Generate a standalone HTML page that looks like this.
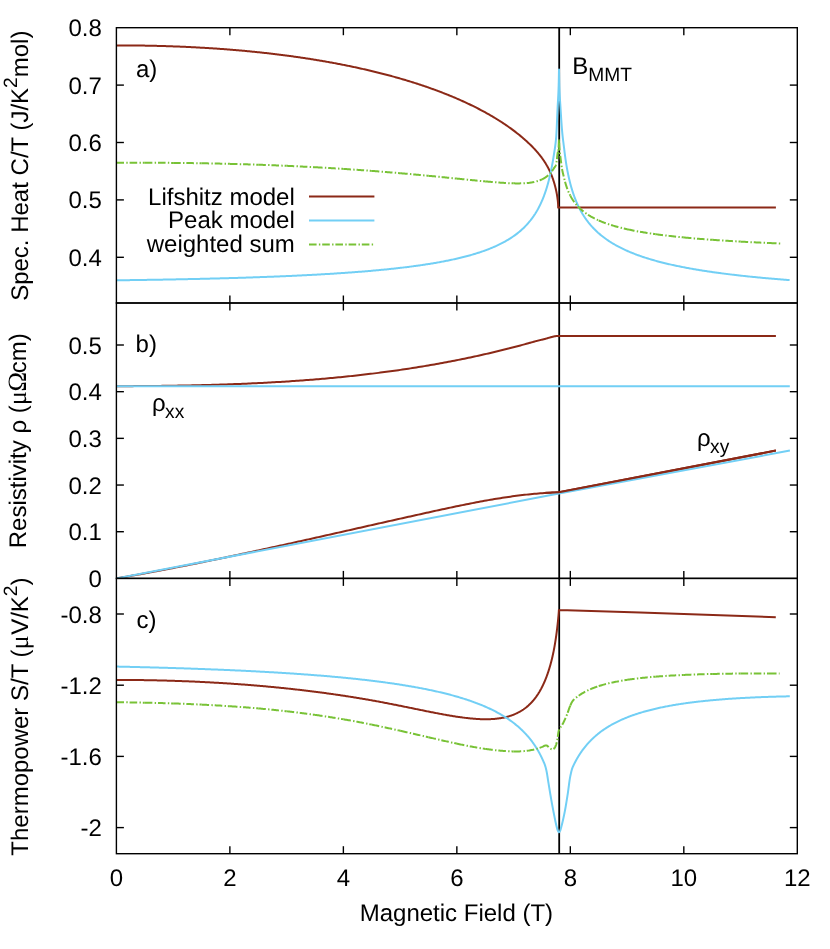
<!DOCTYPE html>
<html><head><meta charset="utf-8"><title>Lifshitz vs Peak model</title>
<style>
html,body{margin:0;padding:0;background:#fff;}
body{width:830px;height:949px;overflow:hidden;font-family:"Liberation Sans",sans-serif;}
svg{display:block;will-change:transform;text-rendering:geometricPrecision;}
</style></head><body>
<svg width="830" height="949" viewBox="0 0 830 949">
<rect width="830" height="949" fill="#fff"/>
<defs>
<clipPath id="ca"><rect x="116.40" y="27.70" width="680.90" height="275.30"/></clipPath>
<clipPath id="cb"><rect x="116.40" y="303.00" width="680.90" height="275.40"/></clipPath>
<clipPath id="cc"><rect x="116.40" y="578.40" width="680.90" height="275.30"/></clipPath>
</defs>
<g clip-path="url(#ca)">
<line x1="559.20" y1="27.70" x2="559.20" y2="303.00" stroke="#000" stroke-width="1.8"/>
<path d="M116.40,45.40 L117.40,45.40 L118.40,45.40 L119.40,45.40 L120.40,45.40 L121.40,45.40 L122.40,45.41 L123.40,45.41 L124.40,45.41 L125.40,45.42 L126.40,45.42 L127.40,45.43 L128.40,45.43 L129.40,45.44 L130.40,45.45 L131.40,45.45 L132.40,45.46 L133.40,45.47 L134.40,45.48 L135.40,45.49 L136.40,45.50 L137.40,45.51 L138.40,45.53 L139.40,45.54 L140.40,45.55 L141.40,45.57 L142.40,45.58 L143.40,45.60 L144.40,45.61 L145.40,45.63 L146.40,45.65 L147.40,45.67 L148.40,45.69 L149.40,45.71 L150.40,45.73 L151.40,45.75 L152.40,45.77 L153.40,45.79 L154.40,45.81 L155.40,45.84 L156.40,45.86 L157.40,45.89 L158.40,45.91 L159.40,45.94 L160.40,45.96 L161.40,45.99 L162.40,46.02 L163.40,46.05 L164.40,46.08 L165.40,46.11 L166.40,46.14 L167.40,46.17 L168.40,46.21 L169.40,46.24 L170.40,46.27 L171.40,46.31 L172.40,46.34 L173.40,46.38 L174.40,46.42 L175.40,46.45 L176.40,46.49 L177.40,46.53 L178.40,46.57 L179.40,46.61 L180.40,46.65 L181.40,46.69 L182.40,46.73 L183.40,46.78 L184.40,46.82 L185.40,46.87 L186.40,46.91 L187.40,46.96 L188.40,47.00 L189.40,47.05 L190.40,47.10 L191.40,47.15 L192.40,47.20 L193.40,47.25 L194.40,47.30 L195.40,47.35 L196.40,47.41 L197.40,47.46 L198.40,47.51 L199.40,47.57 L200.40,47.63 L201.40,47.68 L202.40,47.74 L203.40,47.80 L204.40,47.86 L205.40,47.92 L206.40,47.98 L207.40,48.04 L208.40,48.10 L209.40,48.16 L210.40,48.23 L211.40,48.29 L212.40,48.36 L213.40,48.42 L214.40,48.49 L215.40,48.56 L216.40,48.62 L217.40,48.69 L218.40,48.76 L219.40,48.83 L220.40,48.90 L221.40,48.98 L222.40,49.05 L223.40,49.12 L224.40,49.20 L225.40,49.27 L226.40,49.35 L227.40,49.43 L228.40,49.51 L229.40,49.59 L230.40,49.66 L231.40,49.75 L232.40,49.83 L233.40,49.91 L234.40,49.99 L235.40,50.08 L236.40,50.16 L237.40,50.25 L238.40,50.33 L239.40,50.42 L240.40,50.51 L241.40,50.60 L242.40,50.69 L243.40,50.78 L244.40,50.87 L245.40,50.96 L246.40,51.06 L247.40,51.15 L248.40,51.25 L249.40,51.34 L250.40,51.44 L251.40,51.54 L252.40,51.64 L253.40,51.73 L254.40,51.84 L255.40,51.94 L256.40,52.04 L257.40,52.14 L258.40,52.25 L259.40,52.35 L260.40,52.46 L261.40,52.56 L262.40,52.67 L263.40,52.78 L264.40,52.89 L265.40,53.00 L266.40,53.11 L267.40,53.23 L268.40,53.34 L269.40,53.45 L270.40,53.57 L271.40,53.69 L272.40,53.80 L273.40,53.92 L274.40,54.04 L275.40,54.16 L276.40,54.28 L277.40,54.41 L278.40,54.53 L279.40,54.65 L280.40,54.78 L281.40,54.90 L282.40,55.03 L283.40,55.16 L284.40,55.29 L285.40,55.42 L286.40,55.55 L287.40,55.68 L288.40,55.82 L289.40,55.95 L290.40,56.09 L291.40,56.22 L292.40,56.36 L293.40,56.50 L294.40,56.64 L295.40,56.78 L296.40,56.92 L297.40,57.06 L298.40,57.21 L299.40,57.35 L300.40,57.50 L301.40,57.65 L302.40,57.79 L303.40,57.94 L304.40,58.09 L305.40,58.24 L306.40,58.40 L307.40,58.55 L308.40,58.71 L309.40,58.86 L310.40,59.02 L311.40,59.18 L312.40,59.34 L313.40,59.50 L314.40,59.66 L315.40,59.82 L316.40,59.99 L317.40,60.15 L318.40,60.32 L319.40,60.48 L320.40,60.65 L321.40,60.82 L322.40,60.99 L323.40,61.17 L324.40,61.34 L325.40,61.51 L326.40,61.69 L327.40,61.87 L328.40,62.05 L329.40,62.22 L330.40,62.41 L331.40,62.59 L332.40,62.77 L333.40,62.96 L334.40,63.14 L335.40,63.33 L336.40,63.52 L337.40,63.71 L338.40,63.90 L339.40,64.09 L340.40,64.28 L341.40,64.48 L342.40,64.67 L343.40,64.87 L344.40,65.07 L345.40,65.27 L346.40,65.47 L347.40,65.68 L348.40,65.88 L349.40,66.09 L350.40,66.29 L351.40,66.50 L352.40,66.71 L353.40,66.92 L354.40,67.13 L355.40,67.35 L356.40,67.56 L357.40,67.78 L358.40,68.00 L359.40,68.22 L360.40,68.44 L361.40,68.66 L362.40,68.89 L363.40,69.11 L364.40,69.34 L365.40,69.57 L366.40,69.80 L367.40,70.03 L368.40,70.26 L369.40,70.50 L370.40,70.74 L371.40,70.97 L372.40,71.21 L373.40,71.45 L374.40,71.70 L375.40,71.94 L376.40,72.19 L377.40,72.43 L378.40,72.68 L379.40,72.93 L380.40,73.19 L381.40,73.44 L382.40,73.70 L383.40,73.95 L384.40,74.21 L385.40,74.47 L386.40,74.74 L387.40,75.00 L388.40,75.27 L389.40,75.54 L390.40,75.81 L391.40,76.08 L392.40,76.35 L393.40,76.63 L394.40,76.90 L395.40,77.18 L396.40,77.46 L397.40,77.74 L398.40,78.03 L399.40,78.31 L400.40,78.60 L401.40,78.89 L402.40,79.18 L403.40,79.48 L404.40,79.77 L405.40,80.07 L406.40,80.37 L407.40,80.67 L408.40,80.98 L409.40,81.28 L410.40,81.59 L411.40,81.90 L412.40,82.22 L413.40,82.53 L414.40,82.85 L415.40,83.17 L416.40,83.49 L417.40,83.81 L418.40,84.14 L419.40,84.46 L420.40,84.79 L421.40,85.12 L422.40,85.46 L423.40,85.80 L424.40,86.14 L425.40,86.48 L426.40,86.82 L427.40,87.17 L428.40,87.52 L429.40,87.87 L430.40,88.22 L431.40,88.58 L432.40,88.94 L433.40,89.30 L434.40,89.66 L435.40,90.03 L436.40,90.40 L437.40,90.77 L438.40,91.14 L439.40,91.52 L440.40,91.90 L441.40,92.28 L442.40,92.67 L443.40,93.06 L444.40,93.45 L445.40,93.84 L446.40,94.24 L447.40,94.64 L448.40,95.04 L449.40,95.45 L450.40,95.86 L451.40,96.27 L452.40,96.68 L453.40,97.10 L454.40,97.52 L455.40,97.95 L456.40,98.38 L457.40,98.81 L458.40,99.24 L459.40,99.68 L460.40,100.12 L461.40,100.57 L462.40,101.02 L463.40,101.47 L464.40,101.93 L465.40,102.39 L466.40,102.85 L467.40,103.32 L468.40,103.79 L469.40,104.27 L470.40,104.75 L471.40,105.23 L472.40,105.72 L473.40,106.21 L474.40,106.71 L475.40,107.21 L476.40,107.71 L477.40,108.22 L478.40,108.74 L479.40,109.26 L480.40,109.78 L481.40,110.31 L482.40,110.84 L483.40,111.38 L484.40,111.92 L485.40,112.47 L486.40,113.03 L487.40,113.58 L488.40,114.15 L489.40,114.72 L490.40,115.29 L491.40,115.87 L492.40,116.46 L493.40,117.05 L494.40,117.65 L495.40,118.26 L496.40,118.87 L497.40,119.49 L498.40,120.11 L499.40,120.74 L500.40,121.38 L501.40,122.03 L502.40,122.68 L503.40,123.34 L504.40,124.01 L505.40,124.68 L506.40,125.36 L507.40,126.05 L508.40,126.75 L509.40,127.46 L510.40,128.18 L511.40,128.90 L512.40,129.63 L513.40,130.38 L514.40,131.13 L515.40,131.90 L516.40,132.67 L517.40,133.45 L518.40,134.25 L519.40,135.06 L520.40,135.88 L521.40,136.71 L522.40,137.55 L523.40,138.41 L524.40,139.28 L525.40,140.16 L526.40,141.06 L527.40,141.98 L528.40,142.91 L529.40,143.86 L530.40,144.83 L531.40,145.81 L532.40,146.82 L533.40,147.85 L534.40,148.90 L535.00,149.55 L535.10,149.66 L535.20,149.77 L535.30,149.88 L535.40,149.99 L535.50,150.10 L535.60,150.21 L535.70,150.32 L535.80,150.43 L535.90,150.54 L536.00,150.65 L536.10,150.76 L536.20,150.87 L536.30,150.98 L536.40,151.10 L536.50,151.21 L536.60,151.32 L536.70,151.44 L536.80,151.55 L536.90,151.66 L537.00,151.78 L537.10,151.89 L537.20,152.01 L537.30,152.12 L537.40,152.24 L537.50,152.36 L537.60,152.47 L537.70,152.59 L537.80,152.71 L537.90,152.83 L538.00,152.94 L538.10,153.06 L538.20,153.18 L538.30,153.30 L538.40,153.42 L538.50,153.54 L538.60,153.66 L538.70,153.78 L538.80,153.90 L538.90,154.02 L539.00,154.15 L539.10,154.27 L539.20,154.39 L539.30,154.51 L539.40,154.64 L539.50,154.76 L539.60,154.89 L539.70,155.01 L539.80,155.14 L539.90,155.26 L540.00,155.39 L540.10,155.52 L540.20,155.64 L540.30,155.77 L540.40,155.90 L540.50,156.03 L540.60,156.16 L540.70,156.29 L540.80,156.42 L540.90,156.55 L541.00,156.68 L541.10,156.81 L541.20,156.94 L541.30,157.08 L541.40,157.21 L541.50,157.34 L541.60,157.48 L541.70,157.61 L541.80,157.75 L541.90,157.88 L542.00,158.02 L542.10,158.16 L542.20,158.29 L542.30,158.43 L542.40,158.57 L542.50,158.71 L542.60,158.85 L542.70,158.99 L542.80,159.13 L542.90,159.27 L543.00,159.42 L543.10,159.56 L543.20,159.70 L543.30,159.85 L543.40,159.99 L543.50,160.14 L543.60,160.29 L543.70,160.43 L543.80,160.58 L543.90,160.73 L544.00,160.88 L544.10,161.03 L544.20,161.18 L544.30,161.33 L544.40,161.48 L544.50,161.64 L544.60,161.79 L544.70,161.95 L544.80,162.10 L544.90,162.26 L545.00,162.41 L545.10,162.57 L545.20,162.73 L545.30,162.89 L545.40,163.05 L545.50,163.21 L545.60,163.37 L545.70,163.54 L545.80,163.70 L545.90,163.86 L546.00,164.03 L546.10,164.20 L546.20,164.36 L546.30,164.53 L546.40,164.70 L546.50,164.87 L546.60,165.05 L546.70,165.22 L546.80,165.39 L546.90,165.57 L547.00,165.74 L547.10,165.92 L547.20,166.10 L547.30,166.28 L547.40,166.46 L547.50,166.64 L547.60,166.82 L547.70,167.00 L547.80,167.19 L547.90,167.38 L548.00,167.56 L548.10,167.75 L548.20,167.94 L548.30,168.13 L548.40,168.33 L548.50,168.52 L548.60,168.72 L548.70,168.91 L548.80,169.11 L548.90,169.31 L549.00,169.51 L549.10,169.72 L549.20,169.92 L549.30,170.13 L549.40,170.33 L549.50,170.54 L549.60,170.75 L549.70,170.97 L549.80,171.18 L549.90,171.40 L550.00,171.61 L550.10,171.83 L550.20,172.06 L550.30,172.28 L550.40,172.51 L550.50,172.73 L550.60,172.96 L550.70,173.19 L550.80,173.43 L550.90,173.66 L551.00,173.90 L551.10,174.14 L551.20,174.39 L551.30,174.63 L551.40,174.88 L551.50,175.13 L551.60,175.38 L551.70,175.63 L551.80,175.89 L551.90,176.15 L552.00,176.41 L552.10,176.68 L552.20,176.95 L552.30,177.22 L552.40,177.49 L552.50,177.77 L552.60,178.04 L552.70,178.33 L552.80,178.61 L552.90,178.90 L553.00,179.19 L553.10,179.48 L553.20,179.78 L553.30,180.08 L553.40,180.39 L553.50,180.70 L553.60,181.01 L553.70,181.32 L553.80,181.64 L553.90,181.96 L554.00,182.29 L554.10,182.62 L554.20,182.96 L554.30,183.30 L554.40,183.64 L554.50,183.99 L554.60,184.34 L554.70,184.70 L554.80,185.07 L554.90,185.43 L555.00,185.81 L555.10,186.19 L555.20,186.57 L555.30,186.97 L555.40,187.37 L555.50,187.77 L555.60,188.18 L555.70,188.60 L555.80,189.03 L555.90,189.47 L556.00,189.91 L556.10,190.37 L556.20,190.83 L556.30,191.31 L556.40,191.79 L556.50,192.29 L556.60,192.80 L556.70,193.33 L556.80,193.87 L556.90,194.42 L557.00,195.00 L557.10,195.60 L557.20,196.22 L557.30,196.87 L557.40,197.55 L557.50,198.26 L557.60,199.03 L557.70,199.84 L557.80,200.74 L557.90,201.73 L558.00,202.88 L558.10,204.34 L558.20,207.61 L558.20,207.61 L558.20,207.60 L775.90,207.60" fill="none" stroke="#8b2917" stroke-width="2.0" stroke-linejoin="round"/>
<path d="M116.40,280.30 L117.40,280.29 L118.40,280.28 L119.40,280.27 L120.40,280.25 L121.40,280.24 L122.40,280.23 L123.40,280.22 L124.40,280.20 L125.40,280.19 L126.40,280.18 L127.40,280.16 L128.40,280.15 L129.40,280.14 L130.40,280.12 L131.40,280.11 L132.40,280.09 L133.40,280.08 L134.40,280.07 L135.40,280.05 L136.40,280.04 L137.40,280.02 L138.40,280.01 L139.40,279.99 L140.40,279.98 L141.40,279.96 L142.40,279.95 L143.40,279.93 L144.40,279.92 L145.40,279.90 L146.40,279.89 L147.40,279.87 L148.40,279.86 L149.40,279.84 L150.40,279.83 L151.40,279.81 L152.40,279.79 L153.40,279.78 L154.40,279.76 L155.40,279.74 L156.40,279.73 L157.40,279.71 L158.40,279.69 L159.40,279.68 L160.40,279.66 L161.40,279.64 L162.40,279.63 L163.40,279.61 L164.40,279.59 L165.40,279.57 L166.40,279.55 L167.40,279.54 L168.40,279.52 L169.40,279.50 L170.40,279.48 L171.40,279.46 L172.40,279.44 L173.40,279.42 L174.40,279.41 L175.40,279.39 L176.40,279.37 L177.40,279.35 L178.40,279.33 L179.40,279.31 L180.40,279.29 L181.40,279.27 L182.40,279.25 L183.40,279.23 L184.40,279.21 L185.40,279.19 L186.40,279.17 L187.40,279.15 L188.40,279.12 L189.40,279.10 L190.40,279.08 L191.40,279.06 L192.40,279.04 L193.40,279.02 L194.40,278.99 L195.40,278.97 L196.40,278.95 L197.40,278.93 L198.40,278.90 L199.40,278.88 L200.40,278.86 L201.40,278.84 L202.40,278.81 L203.40,278.79 L204.40,278.77 L205.40,278.74 L206.40,278.72 L207.40,278.69 L208.40,278.67 L209.40,278.64 L210.40,278.62 L211.40,278.59 L212.40,278.57 L213.40,278.54 L214.40,278.52 L215.40,278.49 L216.40,278.47 L217.40,278.44 L218.40,278.42 L219.40,278.39 L220.40,278.36 L221.40,278.34 L222.40,278.31 L223.40,278.28 L224.40,278.25 L225.40,278.23 L226.40,278.20 L227.40,278.17 L228.40,278.14 L229.40,278.11 L230.40,278.09 L231.40,278.06 L232.40,278.03 L233.40,278.00 L234.40,277.97 L235.40,277.94 L236.40,277.91 L237.40,277.88 L238.40,277.85 L239.40,277.82 L240.40,277.79 L241.40,277.76 L242.40,277.73 L243.40,277.69 L244.40,277.66 L245.40,277.63 L246.40,277.60 L247.40,277.57 L248.40,277.53 L249.40,277.50 L250.40,277.47 L251.40,277.43 L252.40,277.40 L253.40,277.37 L254.40,277.33 L255.40,277.30 L256.40,277.26 L257.40,277.23 L258.40,277.19 L259.40,277.16 L260.40,277.12 L261.40,277.09 L262.40,277.05 L263.40,277.01 L264.40,276.98 L265.40,276.94 L266.40,276.90 L267.40,276.87 L268.40,276.83 L269.40,276.79 L270.40,276.75 L271.40,276.71 L272.40,276.67 L273.40,276.64 L274.40,276.60 L275.40,276.56 L276.40,276.52 L277.40,276.48 L278.40,276.43 L279.40,276.39 L280.40,276.35 L281.40,276.31 L282.40,276.27 L283.40,276.23 L284.40,276.18 L285.40,276.14 L286.40,276.10 L287.40,276.05 L288.40,276.01 L289.40,275.97 L290.40,275.92 L291.40,275.88 L292.40,275.83 L293.40,275.78 L294.40,275.74 L295.40,275.69 L296.40,275.65 L297.40,275.60 L298.40,275.55 L299.40,275.50 L300.40,275.45 L301.40,275.41 L302.40,275.36 L303.40,275.31 L304.40,275.26 L305.40,275.21 L306.40,275.16 L307.40,275.11 L308.40,275.06 L309.40,275.00 L310.40,274.95 L311.40,274.90 L312.40,274.85 L313.40,274.79 L314.40,274.74 L315.40,274.68 L316.40,274.63 L317.40,274.57 L318.40,274.52 L319.40,274.46 L320.40,274.41 L321.40,274.35 L322.40,274.29 L323.40,274.23 L324.40,274.18 L325.40,274.12 L326.40,274.06 L327.40,274.00 L328.40,273.94 L329.40,273.88 L330.40,273.82 L331.40,273.75 L332.40,273.69 L333.40,273.63 L334.40,273.57 L335.40,273.50 L336.40,273.44 L337.40,273.37 L338.40,273.31 L339.40,273.24 L340.40,273.17 L341.40,273.11 L342.40,273.04 L343.40,272.97 L344.40,272.90 L345.40,272.83 L346.40,272.76 L347.40,272.69 L348.40,272.62 L349.40,272.55 L350.40,272.48 L351.40,272.40 L352.40,272.33 L353.40,272.26 L354.40,272.18 L355.40,272.10 L356.40,272.03 L357.40,271.95 L358.40,271.87 L359.40,271.79 L360.40,271.72 L361.40,271.64 L362.40,271.55 L363.40,271.47 L364.40,271.39 L365.40,271.31 L366.40,271.23 L367.40,271.14 L368.40,271.06 L369.40,270.97 L370.40,270.88 L371.40,270.80 L372.40,270.71 L373.40,270.62 L374.40,270.53 L375.40,270.44 L376.40,270.35 L377.40,270.25 L378.40,270.16 L379.40,270.07 L380.40,269.97 L381.40,269.87 L382.40,269.78 L383.40,269.68 L384.40,269.58 L385.40,269.48 L386.40,269.38 L387.40,269.28 L388.40,269.18 L389.40,269.07 L390.40,268.97 L391.40,268.86 L392.40,268.75 L393.40,268.65 L394.40,268.54 L395.40,268.43 L396.40,268.32 L397.40,268.20 L398.40,268.09 L399.40,267.97 L400.40,267.86 L401.40,267.74 L402.40,267.62 L403.40,267.50 L404.40,267.38 L405.40,267.26 L406.40,267.14 L407.40,267.01 L408.40,266.89 L409.40,266.76 L410.40,266.63 L411.40,266.50 L412.40,266.37 L413.40,266.24 L414.40,266.10 L415.40,265.96 L416.40,265.83 L417.40,265.69 L418.40,265.55 L419.40,265.40 L420.40,265.26 L421.40,265.12 L422.40,264.97 L423.40,264.82 L424.40,264.67 L425.40,264.52 L426.40,264.36 L427.40,264.21 L428.40,264.05 L429.40,263.89 L430.40,263.73 L431.40,263.56 L432.40,263.40 L433.40,263.23 L434.40,263.06 L435.40,262.89 L436.40,262.72 L437.40,262.54 L438.40,262.36 L439.40,262.18 L440.40,262.00 L441.40,261.81 L442.40,261.62 L443.40,261.43 L444.40,261.24 L445.40,261.05 L446.40,260.85 L447.40,260.65 L448.40,260.45 L449.40,260.24 L450.40,260.03 L451.40,259.82 L452.40,259.61 L453.40,259.39 L454.40,259.17 L455.40,258.95 L456.40,258.72 L457.40,258.49 L458.40,258.26 L459.40,258.02 L460.40,257.78 L461.40,257.54 L462.40,257.29 L463.40,257.04 L464.40,256.78 L465.40,256.52 L466.40,256.26 L467.40,255.99 L468.40,255.72 L469.40,255.45 L470.40,255.17 L471.40,254.88 L472.40,254.59 L473.40,254.30 L474.40,254.00 L475.40,253.70 L476.40,253.39 L477.40,253.07 L478.40,252.75 L479.40,252.43 L480.40,252.10 L481.40,251.76 L482.40,251.42 L483.40,251.07 L484.40,250.71 L485.40,250.35 L486.40,249.98 L487.40,249.60 L488.40,249.22 L489.40,248.83 L490.40,248.43 L491.40,248.02 L492.40,247.60 L493.40,247.18 L494.40,246.75 L495.40,246.30 L496.40,245.85 L497.40,245.39 L498.40,244.92 L499.40,244.43 L500.40,243.94 L501.40,243.44 L502.40,242.92 L503.40,242.39 L504.40,241.85 L505.40,241.29 L506.40,240.72 L507.40,240.14 L508.40,239.54 L509.40,238.92 L510.40,238.29 L511.40,237.64 L512.40,236.98 L513.40,236.29 L514.40,235.58 L515.40,234.86 L516.40,234.11 L517.40,233.34 L518.40,232.54 L519.40,231.72 L520.40,230.87 L521.40,229.99 L522.40,229.09 L523.40,228.15 L524.40,227.17 L525.40,226.16 L526.40,225.11 L527.40,224.03 L528.40,222.89 L529.40,221.71 L530.00,220.98 L530.10,220.85 L530.20,220.73 L530.30,220.60 L530.40,220.48 L530.50,220.35 L530.60,220.23 L530.70,220.10 L530.80,219.97 L530.90,219.84 L531.00,219.71 L531.10,219.58 L531.20,219.45 L531.30,219.32 L531.40,219.19 L531.50,219.06 L531.60,218.93 L531.70,218.80 L531.80,218.66 L531.90,218.53 L532.00,218.39 L532.10,218.26 L532.20,218.12 L532.30,217.98 L532.40,217.85 L532.50,217.71 L532.60,217.57 L532.70,217.43 L532.80,217.29 L532.90,217.15 L533.00,217.01 L533.10,216.87 L533.20,216.73 L533.30,216.58 L533.40,216.44 L533.50,216.29 L533.60,216.15 L533.70,216.00 L533.80,215.86 L533.90,215.71 L534.00,215.56 L534.10,215.41 L534.20,215.26 L534.30,215.11 L534.40,214.96 L534.50,214.81 L534.60,214.66 L534.70,214.50 L534.80,214.35 L534.90,214.19 L535.00,214.04 L535.10,213.88 L535.20,213.72 L535.30,213.57 L535.40,213.41 L535.50,213.25 L535.60,213.09 L535.70,212.93 L535.80,212.76 L535.90,212.60 L536.00,212.44 L536.10,212.27 L536.20,212.11 L536.30,211.94 L536.40,211.77 L536.50,211.60 L536.60,211.43 L536.70,211.26 L536.80,211.09 L536.90,210.92 L537.00,210.75 L537.10,210.58 L537.20,210.40 L537.30,210.23 L537.40,210.05 L537.50,209.87 L537.60,209.69 L537.70,209.51 L537.80,209.33 L537.90,209.15 L538.00,208.97 L538.10,208.79 L538.20,208.60 L538.30,208.42 L538.40,208.23 L538.50,208.04 L538.60,207.85 L538.70,207.66 L538.80,207.47 L538.90,207.28 L539.00,207.09 L539.10,206.90 L539.20,206.70 L539.30,206.50 L539.40,206.31 L539.50,206.11 L539.60,205.91 L539.70,205.71 L539.80,205.51 L539.90,205.30 L540.00,205.10 L540.10,204.89 L540.20,204.69 L540.30,204.48 L540.40,204.27 L540.50,204.06 L540.60,203.84 L540.70,203.63 L540.80,203.42 L540.90,203.20 L541.00,202.98 L541.10,202.77 L541.20,202.55 L541.30,202.32 L541.40,202.10 L541.50,201.88 L541.60,201.65 L541.70,201.43 L541.80,201.20 L541.90,200.97 L542.00,200.74 L542.10,200.50 L542.20,200.27 L542.30,200.03 L542.40,199.80 L542.50,199.56 L542.60,199.32 L542.70,199.07 L542.80,198.83 L542.90,198.59 L543.00,198.34 L543.10,198.09 L543.20,197.84 L543.30,197.59 L543.40,197.33 L543.50,197.08 L543.60,196.82 L543.70,196.56 L543.80,196.30 L543.90,196.04 L544.00,195.78 L544.10,195.51 L544.20,195.24 L544.30,194.97 L544.40,194.70 L544.50,194.43 L544.60,194.15 L544.70,193.87 L544.80,193.59 L544.90,193.31 L545.00,193.03 L545.10,192.74 L545.20,192.45 L545.30,192.16 L545.40,191.87 L545.50,191.57 L545.60,191.28 L545.70,190.98 L545.80,190.68 L545.90,190.37 L546.00,190.07 L546.10,189.76 L546.20,189.45 L546.30,189.13 L546.40,188.82 L546.50,188.50 L546.60,188.18 L546.70,187.85 L546.80,187.53 L546.90,187.20 L547.00,186.87 L547.10,186.53 L547.20,186.19 L547.30,185.85 L547.40,185.51 L547.50,185.17 L547.60,184.82 L547.70,184.47 L547.80,184.11 L547.90,183.75 L548.00,183.39 L548.10,183.03 L548.20,182.66 L548.30,182.29 L548.40,181.92 L548.50,181.54 L548.60,181.16 L548.70,180.78 L548.80,180.39 L548.90,180.00 L549.00,179.60 L549.10,179.20 L549.20,178.80 L549.30,178.40 L549.40,177.99 L549.50,177.57 L549.60,177.16 L549.70,176.74 L549.80,176.31 L549.90,175.88 L550.00,175.45 L550.10,175.01 L550.20,174.57 L550.30,174.12 L550.40,173.67 L550.50,173.22 L550.60,172.76 L550.70,172.30 L550.80,171.83 L550.90,171.36 L551.00,170.88 L551.10,170.40 L551.20,169.91 L551.30,169.42 L551.40,168.92 L551.50,168.42 L551.60,167.91 L551.70,167.40 L551.80,166.88 L551.90,166.36 L552.00,165.83 L552.10,165.30 L552.20,164.76 L552.30,164.21 L552.40,163.66 L552.50,163.11 L552.60,162.54 L552.70,161.98 L552.80,161.40 L552.90,160.82 L553.00,160.24 L553.10,159.64 L553.20,159.05 L553.30,158.44 L553.40,157.83 L553.50,157.21 L553.60,156.59 L553.70,155.96 L553.80,155.32 L553.90,154.66 L554.00,154.02 L554.10,153.39 L554.20,152.76 L554.30,152.14 L554.40,151.52 L554.50,150.90 L554.60,150.27 L554.70,149.64 L554.80,148.99 L554.90,148.34 L555.00,147.66 L555.10,146.96 L555.20,146.24 L555.30,145.49 L555.40,144.71 L555.50,143.90 L555.60,143.05 L555.70,142.16 L555.80,141.22 L555.90,140.24 L556.00,139.22 L556.10,138.14 L556.20,137.00 L556.30,135.71 L556.40,134.18 L556.50,132.44 L556.60,130.53 L556.70,128.46 L556.80,126.27 L556.90,123.99 L557.00,121.65 L557.02,121.17 L557.04,120.70 L557.06,120.22 L557.08,119.74 L557.10,119.26 L557.12,118.79 L557.14,118.31 L557.16,117.83 L557.18,117.35 L557.20,116.87 L557.22,116.40 L557.24,115.92 L557.26,115.45 L557.28,114.97 L557.30,114.50 L557.32,114.03 L557.34,113.57 L557.36,113.10 L557.38,112.64 L557.40,112.18 L557.42,111.73 L557.44,111.27 L557.46,110.82 L557.48,110.38 L557.50,109.94 L557.52,109.50 L557.54,109.07 L557.56,108.64 L557.58,108.22 L557.60,107.80 L557.62,107.39 L557.64,106.98 L557.66,106.59 L557.68,106.20 L557.70,105.81 L557.72,105.43 L557.74,105.06 L557.76,104.69 L557.78,104.33 L557.80,103.97 L557.82,103.61 L557.84,103.26 L557.86,102.90 L557.88,102.55 L557.90,102.21 L557.92,101.86 L557.94,101.51 L557.96,101.17 L557.98,100.82 L558.00,100.48 L558.02,100.13 L558.04,99.78 L558.06,99.43 L558.08,99.08 L558.10,98.72 L558.12,98.36 L558.14,98.00 L558.16,97.63 L558.18,97.26 L558.20,96.88 L558.22,96.50 L558.24,96.11 L558.26,95.71 L558.28,95.31 L558.30,94.90 L558.32,94.49 L558.34,94.06 L558.36,93.63 L558.38,93.19 L558.40,92.73 L558.42,92.27 L558.44,91.80 L558.46,91.32 L558.48,90.82 L558.50,90.32 L558.52,89.80 L558.54,89.27 L558.56,88.72 L558.58,88.16 L558.60,87.59 L558.62,87.01 L558.64,86.41 L558.66,85.78 L558.68,85.11 L558.70,84.38 L558.72,83.60 L558.74,82.77 L558.76,81.90 L558.78,80.99 L558.80,80.05 L558.82,79.07 L558.84,78.06 L558.86,77.04 L558.88,75.99 L558.90,74.92 L558.92,73.85 L558.94,72.76 L558.96,71.67 L558.98,70.59 L559.00,69.50 L559.02,70.59 L559.04,71.68 L559.06,72.78 L559.08,73.87 L559.10,74.95 L559.12,76.03 L559.14,77.09 L559.16,78.13 L559.18,79.14 L559.20,80.12 L559.22,81.07 L559.24,81.98 L559.26,82.85 L559.28,83.67 L559.30,84.44 L559.32,85.15 L559.34,85.80 L559.36,86.39 L559.38,86.96 L559.40,87.52 L559.42,88.07 L559.44,88.61 L559.46,89.13 L559.48,89.65 L559.50,90.15 L559.52,90.64 L559.54,91.12 L559.56,91.60 L559.58,92.06 L559.60,92.51 L559.62,92.95 L559.64,93.39 L559.66,93.82 L559.68,94.23 L559.70,94.65 L559.72,95.05 L559.74,95.44 L559.76,95.83 L559.78,96.21 L559.80,96.59 L559.82,96.96 L559.84,97.32 L559.86,97.67 L559.88,98.03 L559.90,98.37 L559.92,98.71 L559.94,99.05 L559.96,99.38 L559.98,99.71 L560.00,100.04 L560.02,100.36 L560.04,100.68 L560.06,100.99 L560.08,101.31 L560.10,101.62 L560.12,101.93 L560.14,102.23 L560.16,102.54 L560.18,102.84 L560.20,103.15 L560.22,103.45 L560.24,103.75 L560.26,104.06 L560.28,104.36 L560.30,104.66 L560.32,104.97 L560.34,105.28 L560.36,105.58 L560.38,105.89 L560.40,106.20 L560.42,106.52 L560.44,106.83 L560.46,107.15 L560.48,107.47 L560.50,107.80 L560.52,108.13 L560.54,108.45 L560.56,108.78 L560.58,109.11 L560.60,109.43 L560.62,109.76 L560.64,110.08 L560.66,110.41 L560.68,110.73 L560.70,111.05 L560.72,111.38 L560.74,111.70 L560.76,112.02 L560.78,112.34 L560.80,112.66 L560.82,112.98 L560.84,113.30 L560.86,113.62 L560.88,113.93 L560.90,114.25 L560.92,114.56 L560.94,114.88 L560.96,115.19 L560.98,115.50 L561.00,115.82 L561.10,117.36 L561.20,118.88 L561.30,120.37 L561.40,121.83 L561.50,123.25 L561.60,124.64 L561.70,125.98 L561.80,127.28 L561.90,128.54 L562.00,129.75 L562.10,130.90 L562.20,132.00 L562.30,133.05 L562.40,134.06 L562.50,135.04 L562.60,135.99 L562.70,136.90 L562.80,137.79 L562.90,138.65 L563.00,139.49 L563.10,140.32 L563.20,141.12 L563.30,141.92 L563.40,142.71 L563.50,143.49 L563.60,144.26 L563.70,145.03 L563.80,145.81 L563.90,146.59 L564.00,147.38 L564.10,148.18 L564.20,148.99 L564.30,149.86 L564.40,150.71 L564.50,151.54 L564.60,152.36 L564.70,153.16 L564.80,153.95 L564.90,154.72 L565.00,155.48 L565.10,156.23 L565.20,156.97 L565.30,157.69 L565.40,158.40 L565.50,159.10 L565.60,159.79 L565.70,160.47 L565.80,161.14 L565.90,161.80 L566.00,162.44 L566.10,163.08 L566.20,163.71 L566.30,164.33 L566.40,164.94 L566.50,165.54 L566.60,166.13 L566.70,166.72 L566.80,167.30 L566.90,167.87 L567.00,168.43 L567.10,168.98 L567.20,169.53 L567.30,170.07 L567.40,170.60 L567.50,171.13 L567.60,171.65 L567.70,172.16 L567.80,172.67 L567.90,173.17 L568.00,173.66 L568.10,174.15 L568.20,174.63 L568.30,175.11 L568.40,175.58 L568.50,176.05 L568.60,176.51 L568.70,176.96 L568.80,177.42 L568.90,177.86 L569.00,178.30 L569.10,178.74 L569.20,179.17 L569.30,179.60 L569.40,180.02 L569.50,180.43 L569.60,180.85 L569.70,181.26 L569.80,181.66 L569.90,182.06 L570.00,182.46 L570.10,182.85 L570.20,183.24 L570.30,183.63 L570.40,184.01 L570.50,184.39 L570.60,184.76 L570.70,185.13 L570.80,185.50 L570.90,185.86 L571.00,186.22 L571.10,186.58 L571.20,186.93 L571.30,187.28 L571.40,187.63 L571.50,187.97 L571.60,188.31 L571.70,188.65 L571.80,188.99 L571.90,189.32 L572.00,189.65 L572.10,189.97 L572.20,190.30 L572.30,190.62 L572.40,190.94 L572.50,191.25 L572.60,191.56 L572.70,191.88 L572.80,192.18 L572.90,192.49 L573.00,192.79 L573.10,193.09 L573.20,193.39 L573.30,193.68 L573.40,193.98 L573.50,194.27 L573.60,194.56 L573.70,194.84 L573.80,195.13 L573.90,195.41 L574.00,195.69 L574.10,195.97 L574.20,196.24 L574.30,196.52 L574.40,196.79 L574.50,197.06 L574.60,197.33 L574.70,197.59 L574.80,197.86 L574.90,198.12 L575.00,198.38 L575.10,198.64 L575.20,198.89 L575.30,199.15 L575.40,199.40 L575.50,199.65 L575.60,199.90 L575.70,200.15 L575.80,200.39 L575.90,200.64 L576.00,200.88 L576.10,201.12 L576.20,201.36 L576.30,201.60 L576.40,201.84 L576.50,202.07 L576.60,202.30 L576.70,202.53 L576.80,202.76 L576.90,202.99 L577.00,203.22 L577.10,203.45 L577.20,203.67 L577.30,203.89 L577.40,204.11 L577.50,204.33 L577.60,204.55 L577.70,204.77 L577.80,204.99 L577.90,205.20 L578.00,205.41 L578.10,205.63 L578.20,205.84 L578.30,206.05 L578.40,206.25 L578.50,206.46 L578.60,206.67 L578.70,206.87 L578.80,207.08 L578.90,207.28 L579.00,207.48 L579.10,207.68 L579.20,207.88 L579.30,208.07 L579.40,208.27 L579.50,208.47 L579.60,208.66 L579.70,208.85 L579.80,209.04 L579.90,209.24 L580.00,209.42 L580.10,209.61 L580.20,209.80 L580.30,209.99 L580.40,210.17 L580.50,210.36 L580.60,210.54 L580.70,210.72 L580.80,210.91 L580.90,211.09 L581.00,211.27 L581.10,211.45 L581.20,211.62 L581.30,211.80 L581.40,211.98 L581.50,212.15 L581.60,212.32 L581.70,212.50 L581.80,212.67 L581.90,212.84 L582.00,213.01 L582.10,213.18 L582.20,213.35 L582.30,213.52 L582.40,213.69 L582.50,213.85 L582.60,214.02 L582.70,214.18 L582.80,214.35 L582.90,214.51 L583.00,214.67 L583.10,214.83 L583.20,214.99 L583.30,215.15 L583.40,215.31 L583.50,215.47 L583.60,215.63 L583.70,215.78 L583.80,215.94 L583.90,216.09 L584.00,216.25 L584.10,216.40 L584.20,216.56 L584.30,216.71 L584.40,216.86 L584.50,217.01 L584.60,217.16 L584.70,217.31 L584.80,217.46 L584.90,217.61 L585.00,217.75 L585.10,217.90 L585.20,218.05 L585.30,218.19 L585.40,218.34 L585.50,218.48 L585.60,218.62 L585.70,218.77 L585.80,218.91 L585.90,219.05 L586.00,219.19 L586.10,219.33 L586.20,219.47 L586.30,219.61 L586.40,219.75 L586.50,219.89 L586.60,220.02 L586.70,220.16 L586.80,220.30 L586.90,220.43 L587.00,220.57 L587.10,220.70 L587.20,220.84 L587.30,220.97 L587.40,221.10 L587.50,221.23 L587.60,221.36 L587.70,221.50 L587.80,221.63 L587.90,221.76 L588.00,221.89 L588.10,222.01 L588.20,222.14 L588.30,222.27 L588.40,222.40 L588.50,222.52 L588.60,222.65 L588.70,222.78 L588.80,222.90 L588.90,223.03 L589.00,223.15 L589.10,223.27 L589.20,223.40 L589.30,223.52 L589.40,223.64 L589.50,223.76 L589.60,223.88 L589.70,224.00 L589.80,224.12 L589.90,224.24 L590.00,224.36 L591.00,225.53 L592.00,226.66 L593.00,227.74 L594.00,228.79 L595.00,229.79 L596.00,230.77 L597.00,231.71 L598.00,232.63 L599.00,233.51 L600.00,234.37 L601.00,235.20 L602.00,236.01 L603.00,236.80 L604.00,237.56 L605.00,238.30 L606.00,239.02 L607.00,239.73 L608.00,240.41 L609.00,241.08 L610.00,241.73 L611.00,242.36 L612.00,242.98 L613.00,243.59 L614.00,244.18 L615.00,244.75 L616.00,245.32 L617.00,245.87 L618.00,246.41 L619.00,246.94 L620.00,247.45 L621.00,247.96 L622.00,248.45 L623.00,248.94 L624.00,249.41 L625.00,249.88 L626.00,250.33 L627.00,250.78 L628.00,251.22 L629.00,251.65 L630.00,252.08 L631.00,252.49 L632.00,252.90 L633.00,253.30 L634.00,253.69 L635.00,254.08 L636.00,254.46 L637.00,254.83 L638.00,255.20 L639.00,255.56 L640.00,255.91 L641.00,256.26 L642.00,256.60 L643.00,256.94 L644.00,257.27 L645.00,257.60 L646.00,257.92 L647.00,258.24 L648.00,258.55 L649.00,258.86 L650.00,259.16 L651.00,259.46 L652.00,259.75 L653.00,260.04 L654.00,260.33 L655.00,260.61 L656.00,260.89 L657.00,261.16 L658.00,261.43 L659.00,261.70 L660.00,261.96 L661.00,262.22 L662.00,262.47 L663.00,262.72 L664.00,262.97 L665.00,263.22 L666.00,263.46 L667.00,263.70 L668.00,263.93 L669.00,264.17 L670.00,264.40 L671.00,264.62 L672.00,264.85 L673.00,265.07 L674.00,265.29 L675.00,265.50 L676.00,265.72 L677.00,265.93 L678.00,266.14 L679.00,266.34 L680.00,266.55 L681.00,266.75 L682.00,266.95 L683.00,267.14 L684.00,267.34 L685.00,267.53 L686.00,267.72 L687.00,267.91 L688.00,268.09 L689.00,268.27 L690.00,268.46 L691.00,268.64 L692.00,268.81 L693.00,268.99 L694.00,269.16 L695.00,269.33 L696.00,269.50 L697.00,269.67 L698.00,269.84 L699.00,270.00 L700.00,270.17 L701.00,270.33 L702.00,270.49 L703.00,270.65 L704.00,270.80 L705.00,270.96 L706.00,271.11 L707.00,271.26 L708.00,271.41 L709.00,271.56 L710.00,271.71 L711.00,271.85 L712.00,272.00 L713.00,272.14 L714.00,272.28 L715.00,272.42 L716.00,272.56 L717.00,272.70 L718.00,272.84 L719.00,272.97 L720.00,273.11 L721.00,273.24 L722.00,273.37 L723.00,273.50 L724.00,273.63 L725.00,273.76 L726.00,273.88 L727.00,274.01 L728.00,274.13 L729.00,274.26 L730.00,274.38 L731.00,274.50 L732.00,274.62 L733.00,274.74 L734.00,274.86 L735.00,274.98 L736.00,275.09 L737.00,275.21 L738.00,275.32 L739.00,275.43 L740.00,275.55 L741.00,275.66 L742.00,275.77 L743.00,275.88 L744.00,275.98 L745.00,276.09 L746.00,276.20 L747.00,276.30 L748.00,276.41 L749.00,276.51 L750.00,276.62 L751.00,276.72 L752.00,276.82 L753.00,276.92 L754.00,277.02 L755.00,277.12 L756.00,277.22 L757.00,277.31 L758.00,277.41 L759.00,277.51 L760.00,277.60 L761.00,277.70 L762.00,277.79 L763.00,277.88 L764.00,277.97 L765.00,278.07 L766.00,278.16 L767.00,278.25 L768.00,278.34 L769.00,278.42 L770.00,278.51 L771.00,278.60 L772.00,278.69 L773.00,278.77 L774.00,278.86 L775.00,278.94 L776.00,279.03 L777.00,279.11 L778.00,279.19 L779.00,279.28 L780.00,279.36 L781.00,279.44 L782.00,279.52 L783.00,279.60 L784.00,279.68 L785.00,279.76 L786.00,279.83 L787.00,279.91 L788.00,279.99 L789.00,280.07 L789.60,280.11" fill="none" stroke="#72cff5" stroke-width="2.0" stroke-linejoin="round"/>
<path d="M116.40,162.85 L117.40,162.85 L118.40,162.84 L119.40,162.83 L120.40,162.83 L121.40,162.82 L122.40,162.82 L123.40,162.81 L124.40,162.81 L125.40,162.80 L126.40,162.80 L127.40,162.79 L128.40,162.79 L129.40,162.79 L130.40,162.78 L131.40,162.78 L132.40,162.78 L133.40,162.78 L134.40,162.77 L135.40,162.77 L136.40,162.77 L137.40,162.77 L138.40,162.77 L139.40,162.77 L140.40,162.77 L141.40,162.77 L142.40,162.77 L143.40,162.77 L144.40,162.77 L144.77,162.77" fill="none" stroke="#78c236" stroke-width="2.0" stroke-linejoin="round" stroke-dasharray="7.6 2.3 1.4 1.9"/>
<path d="M144.77,162.77 L145.40,162.77 L146.40,162.77 L147.40,162.77 L148.40,162.77 L149.40,162.77 L150.40,162.78 L151.40,162.78 L152.40,162.78 L153.40,162.78 L154.40,162.79 L155.40,162.79 L156.40,162.79 L157.40,162.80 L158.40,162.80 L159.40,162.81 L160.40,162.81 L161.40,162.82 L162.40,162.82 L163.40,162.83 L164.40,162.83 L165.40,162.84 L166.40,162.85 L167.40,162.85 L168.40,162.86 L169.40,162.87 L170.40,162.88 L171.40,162.88 L172.40,162.89 L173.14,162.90" fill="none" stroke="#78c236" stroke-width="2.0" stroke-linejoin="round" stroke-dasharray="7.6 2.3 1.4 1.9"/>
<path d="M173.14,162.90 L173.40,162.90 L174.40,162.91 L175.40,162.92 L176.40,162.93 L177.40,162.94 L178.40,162.95 L179.40,162.96 L180.40,162.97 L181.40,162.98 L182.40,162.99 L183.40,163.00 L184.40,163.01 L185.40,163.03 L186.40,163.04 L187.40,163.05 L188.40,163.06 L189.40,163.08 L190.40,163.09 L191.40,163.11 L192.40,163.12 L193.40,163.13 L194.40,163.15 L195.40,163.16 L196.40,163.18 L197.40,163.19 L198.40,163.21 L199.40,163.23 L200.40,163.24 L201.40,163.26 L201.51,163.26" fill="none" stroke="#78c236" stroke-width="2.0" stroke-linejoin="round" stroke-dasharray="7.6 2.3 1.4 1.9"/>
<path d="M201.51,163.26 L202.40,163.28 L203.40,163.29 L204.40,163.31 L205.40,163.33 L206.40,163.35 L207.40,163.37 L208.40,163.38 L209.40,163.40 L210.40,163.42 L211.40,163.44 L212.40,163.46 L213.40,163.48 L214.40,163.50 L215.40,163.52 L216.40,163.55 L217.40,163.57 L218.40,163.59 L219.40,163.61 L220.40,163.63 L221.40,163.66 L222.40,163.68 L223.40,163.70 L224.40,163.73 L225.40,163.75 L226.40,163.77 L227.40,163.80 L228.40,163.82 L229.40,163.85 L229.88,163.86" fill="none" stroke="#78c236" stroke-width="2.0" stroke-linejoin="round" stroke-dasharray="7.6 2.3 1.4 1.9"/>
<path d="M229.88,163.86 L230.40,163.88 L231.40,163.90 L232.40,163.93 L233.40,163.95 L234.40,163.98 L235.40,164.01 L236.40,164.04 L237.40,164.06 L238.40,164.09 L239.40,164.12 L240.40,164.15 L241.40,164.18 L242.40,164.21 L243.40,164.24 L244.40,164.27 L245.40,164.30 L246.40,164.33 L247.40,164.36 L248.40,164.39 L249.40,164.42 L250.40,164.45 L251.40,164.49 L252.40,164.52 L253.40,164.55 L254.40,164.58 L255.40,164.62 L256.40,164.65 L257.40,164.69 L258.25,164.72" fill="none" stroke="#78c236" stroke-width="2.0" stroke-linejoin="round" stroke-dasharray="7.6 2.3 1.4 1.9"/>
<path d="M258.25,164.72 L258.40,164.72 L259.40,164.76 L260.40,164.79 L261.40,164.83 L262.40,164.86 L263.40,164.90 L264.40,164.93 L265.40,164.97 L266.40,165.01 L267.40,165.05 L268.40,165.08 L269.40,165.12 L270.40,165.16 L271.40,165.20 L272.40,165.24 L273.40,165.28 L274.40,165.32 L275.40,165.36 L276.40,165.40 L277.40,165.44 L278.40,165.48 L279.40,165.52 L280.40,165.56 L281.40,165.61 L282.40,165.65 L283.40,165.69 L284.40,165.74 L285.40,165.78 L286.40,165.82 L286.62,165.83" fill="none" stroke="#78c236" stroke-width="2.0" stroke-linejoin="round" stroke-dasharray="7.6 2.3 1.4 1.9"/>
<path d="M286.62,165.83 L287.40,165.87 L288.40,165.91 L289.40,165.96 L290.40,166.00 L291.40,166.05 L292.40,166.10 L293.40,166.14 L294.40,166.19 L295.40,166.24 L296.40,166.28 L297.40,166.33 L298.40,166.38 L299.40,166.43 L300.40,166.48 L301.40,166.53 L302.40,166.58 L303.40,166.63 L304.40,166.68 L305.40,166.73 L306.40,166.78 L307.40,166.83 L308.40,166.88 L309.40,166.93 L310.40,166.99 L311.40,167.04 L312.40,167.09 L313.40,167.14 L314.40,167.20 L315.00,167.23" fill="none" stroke="#78c236" stroke-width="2.0" stroke-linejoin="round" stroke-dasharray="7.6 2.3 1.4 1.9"/>
<path d="M315.00,167.23 L315.40,167.25 L316.40,167.31 L317.40,167.36 L318.40,167.42 L319.40,167.47 L320.40,167.53 L321.40,167.59 L322.40,167.64 L323.40,167.70 L324.40,167.76 L325.40,167.82 L326.40,167.87 L327.40,167.93 L328.40,167.99 L329.40,168.05 L330.40,168.11 L331.40,168.17 L332.40,168.23 L333.40,168.29 L334.40,168.35 L335.40,168.42 L336.40,168.48 L337.40,168.54 L338.40,168.60 L339.40,168.67 L340.40,168.73 L341.40,168.79 L342.40,168.86 L343.37,168.92" fill="none" stroke="#78c236" stroke-width="2.0" stroke-linejoin="round" stroke-dasharray="7.6 2.3 1.4 1.9"/>
<path d="M343.37,168.92 L343.40,168.92 L344.40,168.99 L345.40,169.05 L346.40,169.12 L347.40,169.18 L348.40,169.25 L349.40,169.32 L350.40,169.38 L351.40,169.45 L352.40,169.52 L353.40,169.59 L354.40,169.66 L355.40,169.73 L356.40,169.80 L357.40,169.87 L358.40,169.94 L359.40,170.01 L360.40,170.08 L361.40,170.15 L362.40,170.22 L363.40,170.29 L364.40,170.37 L365.40,170.44 L366.40,170.51 L367.40,170.59 L368.40,170.66 L369.40,170.73 L370.40,170.81 L371.40,170.88 L371.74,170.91" fill="none" stroke="#78c236" stroke-width="2.0" stroke-linejoin="round" stroke-dasharray="7.6 2.3 1.4 1.9"/>
<path d="M371.74,170.91 L372.40,170.96 L373.40,171.04 L374.40,171.11 L375.40,171.19 L376.40,171.27 L377.40,171.34 L378.40,171.42 L379.40,171.50 L380.40,171.58 L381.40,171.66 L382.40,171.74 L383.40,171.82 L384.40,171.90 L385.40,171.98 L386.40,172.06 L387.40,172.14 L388.40,172.22 L389.40,172.30 L390.40,172.39 L391.40,172.47 L392.40,172.55 L393.40,172.64 L394.40,172.72 L395.40,172.80 L396.40,172.89 L397.40,172.97 L398.40,173.06 L399.40,173.14 L400.11,173.21" fill="none" stroke="#78c236" stroke-width="2.0" stroke-linejoin="round" stroke-dasharray="7.6 2.3 1.4 1.9"/>
<path d="M400.11,173.21 L400.40,173.23 L401.40,173.32 L402.40,173.40 L403.40,173.49 L404.40,173.58 L405.40,173.67 L406.40,173.75 L407.40,173.84 L408.40,173.93 L409.40,174.02 L410.40,174.11 L411.40,174.20 L412.40,174.29 L413.40,174.38 L414.40,174.47 L415.40,174.56 L416.40,174.66 L417.40,174.75 L418.40,174.84 L419.40,174.93 L420.40,175.03 L421.40,175.12 L422.40,175.21 L423.40,175.31 L424.40,175.40 L425.40,175.50 L426.40,175.59 L427.40,175.69 L428.40,175.78 L428.48,175.79" fill="none" stroke="#78c236" stroke-width="2.0" stroke-linejoin="round" stroke-dasharray="7.6 2.3 1.4 1.9"/>
<path d="M428.48,175.79 L429.40,175.88 L430.40,175.97 L431.40,176.07 L432.40,176.17 L433.40,176.26 L434.40,176.36 L435.40,176.46 L436.40,176.56 L437.40,176.65 L438.40,176.75 L439.40,176.85 L440.40,176.95 L441.40,177.05 L442.40,177.15 L443.40,177.25 L444.40,177.34 L445.40,177.44 L446.40,177.54 L447.40,177.64 L448.40,177.74 L449.40,177.84 L450.40,177.94 L451.40,178.04 L452.40,178.15 L453.40,178.25 L454.40,178.35 L455.40,178.45 L456.40,178.55 L456.85,178.59" fill="none" stroke="#78c236" stroke-width="2.0" stroke-linejoin="round" stroke-dasharray="7.6 2.3 1.4 1.9"/>
<path d="M456.85,178.59 L457.40,178.65 L458.40,178.75 L459.40,178.85 L460.40,178.95 L461.40,179.05 L462.40,179.15 L463.40,179.25 L464.40,179.36 L465.40,179.46 L466.40,179.56 L467.40,179.66 L468.40,179.76 L469.40,179.86 L470.40,179.96 L471.40,180.06 L472.40,180.16 L473.40,180.26 L474.40,180.35 L475.40,180.45 L476.40,180.55 L477.40,180.65 L478.40,180.75 L479.40,180.84 L480.40,180.94 L481.40,181.03 L482.40,181.13 L483.40,181.22 L484.40,181.32 L485.22,181.39" fill="none" stroke="#78c236" stroke-width="2.0" stroke-linejoin="round" stroke-dasharray="7.6 2.3 1.4 1.9"/>
<path d="M485.22,181.39 L485.40,181.41 L486.40,181.50 L487.40,181.59 L488.40,181.68 L489.40,181.77 L490.40,181.86 L491.40,181.95 L492.40,182.03 L493.40,182.12 L494.40,182.20 L495.40,182.28 L496.40,182.36 L497.40,182.44 L498.40,182.52 L499.40,182.59 L500.40,182.66 L501.40,182.73 L502.40,182.80 L503.40,182.86 L504.40,182.93 L505.40,182.99 L506.40,183.04 L507.40,183.10 L508.40,183.15 L509.40,183.19 L510.40,183.23 L511.40,183.27 L512.40,183.31 L513.40,183.33 L513.59,183.34" fill="none" stroke="#78c236" stroke-width="2.0" stroke-linejoin="round" stroke-dasharray="7.6 2.3 1.4 1.9"/>
<path d="M513.59,183.34 L514.40,183.36 L515.40,183.38 L516.40,183.39 L517.40,183.40 L518.40,183.40 L519.40,183.39 L520.40,183.37 L521.40,183.35 L522.40,183.32 L523.40,183.28 L524.40,183.23 L525.40,183.16 L526.40,183.09 L527.40,183.00 L528.40,182.90 L529.40,182.79 L530.00,182.71 L530.10,182.69 L530.20,182.68 L530.30,182.67 L530.40,182.65 L530.50,182.64 L530.60,182.62 L530.70,182.61 L530.80,182.59 L530.90,182.58 L531.00,182.56 L531.10,182.55 L531.20,182.53 L531.30,182.52 L531.40,182.50 L531.50,182.49 L531.60,182.47 L531.70,182.45 L531.80,182.44 L531.90,182.42 L532.00,182.40 L532.10,182.39 L532.20,182.37 L532.30,182.35 L532.40,182.33 L532.50,182.32 L532.60,182.30 L532.70,182.28 L532.80,182.26 L532.90,182.24 L533.00,182.22 L533.10,182.20 L533.20,182.18 L533.30,182.16 L533.40,182.14 L533.50,182.12 L533.60,182.10 L533.70,182.08 L533.80,182.06 L533.90,182.04 L534.00,182.02 L534.10,182.00 L534.20,181.98 L534.30,181.95 L534.40,181.93 L534.50,181.91 L534.60,181.89 L534.70,181.86 L534.80,181.84 L534.90,181.82 L535.00,181.79 L535.10,181.77 L535.20,181.75 L535.30,181.72 L535.40,181.70 L535.50,181.67 L535.60,181.65 L535.70,181.62 L535.80,181.59 L535.90,181.57 L536.00,181.54 L536.10,181.52 L536.20,181.49 L536.30,181.46 L536.40,181.43 L536.50,181.41 L536.60,181.38 L536.70,181.35 L536.80,181.32 L536.90,181.29 L537.00,181.26 L537.10,181.23 L537.20,181.20 L537.30,181.17 L537.40,181.14 L537.50,181.11 L537.60,181.08 L537.70,181.05 L537.80,181.02 L537.90,180.99 L538.00,180.96 L538.10,180.92 L538.20,180.89 L538.30,180.86 L538.40,180.82 L538.50,180.79 L538.60,180.76 L538.70,180.72 L538.80,180.69 L538.90,180.65 L539.00,180.62 L539.10,180.58 L539.20,180.55 L539.30,180.51 L539.40,180.47 L539.50,180.43 L539.60,180.40 L539.70,180.36 L539.80,180.32 L539.90,180.28 L540.00,180.24 L540.10,180.20 L540.20,180.16 L540.30,180.12 L540.40,180.08 L540.50,180.04 L540.60,180.00 L540.70,179.96 L540.80,179.92 L540.90,179.87 L541.00,179.83 L541.10,179.79 L541.20,179.74 L541.30,179.70 L541.40,179.66 L541.50,179.61 L541.60,179.56 L541.70,179.52 L541.80,179.47 L541.90,179.43 L541.96,179.40" fill="none" stroke="#78c236" stroke-width="2.0" stroke-linejoin="round" stroke-dasharray="7.6 2.3 1.4 1.9"/>
<path d="M541.96,179.40 L542.00,179.38 L542.10,179.33 L542.20,179.28 L542.30,179.23 L542.40,179.18 L542.50,179.13 L542.60,179.08 L542.70,179.03 L542.80,178.98 L542.90,178.93 L543.00,178.88 L543.10,178.83 L543.20,178.77 L543.30,178.72 L543.40,178.66 L543.50,178.61 L543.60,178.55 L543.70,178.50 L543.80,178.44 L543.90,178.39 L544.00,178.33 L544.10,178.27 L544.20,178.21 L544.30,178.15 L544.40,178.09 L544.50,178.03 L544.60,177.97 L544.70,177.91 L544.80,177.85 L544.90,177.78 L545.00,177.72 L545.10,177.66 L545.20,177.59 L545.30,177.53 L545.40,177.46 L545.50,177.39 L545.60,177.32 L545.70,177.26 L545.80,177.19 L545.90,177.12 L546.00,177.05 L546.10,176.98 L546.20,176.91 L546.30,176.83 L546.40,176.76 L546.50,176.69 L546.60,176.61 L546.70,176.54 L546.80,176.46 L546.90,176.38 L547.00,176.30 L547.10,176.23 L547.20,176.15 L547.30,176.07 L547.40,175.98 L547.50,175.90 L547.60,175.82 L547.70,175.73 L547.80,175.65 L547.90,175.56 L548.00,175.48 L548.10,175.39 L548.20,175.30 L548.30,175.21 L548.40,175.12 L548.50,175.03 L548.60,174.94 L548.70,174.84 L548.80,174.75 L548.90,174.65 L549.00,174.56 L549.10,174.46 L549.20,174.36 L549.30,174.26 L549.40,174.16 L549.50,174.06 L549.60,173.96 L549.70,173.85 L549.80,173.75 L549.90,173.64 L550.00,173.53 L550.10,173.42 L550.20,173.31 L550.30,173.20 L550.40,173.09 L550.50,172.98 L550.60,172.86 L550.70,172.75 L550.80,172.63 L550.90,172.51 L551.00,172.39 L551.10,172.27 L551.20,172.15 L551.30,172.02 L551.40,171.90 L551.50,171.77 L551.60,171.65 L551.70,171.52 L551.80,171.39 L551.90,171.26 L552.00,171.12 L552.10,170.99 L552.20,170.85 L552.30,170.71 L552.40,170.58 L552.50,170.44 L552.60,170.29 L552.70,170.15 L552.80,170.01 L552.90,169.86 L553.00,169.71 L553.10,169.56 L553.20,169.41 L553.30,169.26 L553.40,169.11 L553.50,168.95 L553.60,168.80 L553.70,168.64 L553.80,168.48 L553.90,168.31 L554.00,168.16 L554.10,168.00 L554.20,167.86 L554.30,167.72 L554.40,167.58 L554.50,167.44 L554.60,167.31 L554.70,167.17 L554.80,167.03 L554.90,166.88 L555.00,166.73 L555.10,166.57 L555.20,166.41 L555.30,166.23 L555.40,166.04 L555.50,165.83 L555.60,165.62 L555.70,165.38 L555.80,165.13 L555.90,164.86 L556.00,164.57 L556.10,164.25 L556.20,163.92 L556.30,163.51 L556.40,162.99 L556.50,162.37 L556.60,161.66 L556.70,160.89 L556.80,160.07 L556.90,159.21 L557.00,158.32 L557.02,158.15 L557.04,157.97 L557.06,157.79 L557.08,157.61 L557.10,157.43 L557.12,157.25 L557.14,157.08 L557.16,156.90 L557.18,156.72 L557.20,156.55 L557.22,156.37 L557.24,156.20 L557.26,156.03 L557.28,155.85 L557.30,155.69 L557.32,155.52 L557.34,155.35 L557.36,155.19 L557.38,155.02 L557.40,154.86 L557.42,154.71 L557.44,154.55 L557.46,154.40 L557.48,154.25 L557.50,154.10 L557.52,153.96 L557.54,153.82 L557.56,153.68 L557.58,153.54 L557.60,153.41 L557.62,153.29 L557.64,153.16 L557.66,153.05 L557.68,152.94 L557.70,152.83 L557.72,152.72 L557.74,152.63 L557.76,152.53 L557.78,152.44 L557.80,152.35 L557.82,152.27 L557.84,152.19 L557.86,152.11 L557.88,152.04 L557.90,151.97 L557.92,151.90 L557.94,151.84 L557.96,151.78 L557.98,151.73 L558.00,151.68 L558.02,151.64 L558.04,151.60 L558.06,151.57 L558.08,151.54 L558.10,151.53 L558.12,151.53 L558.14,151.55 L558.16,151.61 L558.18,151.73 L558.20,152.25 L558.22,152.05 L558.24,151.85 L558.26,151.66 L558.28,151.46 L558.30,151.25 L558.32,151.04 L558.34,150.83 L558.36,150.61 L558.38,150.39 L558.40,150.17 L558.42,149.94 L558.44,149.70 L558.46,149.46 L558.48,149.21 L558.50,148.96 L558.52,148.70 L558.54,148.43 L558.56,148.16 L558.58,147.88 L558.60,147.60 L558.62,147.30 L558.64,147.00 L558.66,146.69 L558.68,146.35 L558.70,145.99 L558.72,145.60 L558.74,145.19 L558.76,144.75 L558.78,144.30 L558.80,143.82 L558.82,143.33 L558.84,142.83 L558.86,142.32 L558.88,141.79 L558.90,141.26 L558.92,140.72 L558.94,140.18 L558.96,139.64 L558.98,139.09 L559.00,138.55 L559.02,139.09 L559.04,139.64 L559.06,140.19 L559.08,140.73 L559.10,141.28 L559.12,141.81 L559.14,142.34 L559.16,142.86 L559.18,143.37 L559.20,143.86 L559.22,144.34 L559.24,144.79 L559.26,145.22 L559.28,145.63 L559.30,146.02 L559.32,146.37 L559.34,146.70 L559.36,147.00 L559.38,147.28 L559.40,147.56 L559.42,147.84 L559.44,148.10 L559.46,148.37 L559.48,148.62 L559.50,148.87 L559.52,149.12 L559.54,149.36 L559.56,149.60 L559.58,149.83 L559.60,150.06 L559.62,150.28 L559.64,150.49 L559.66,150.71 L559.68,150.92 L559.70,151.12 L559.72,151.32 L559.74,151.52 L559.76,151.72 L559.78,151.91 L559.80,152.09 L559.82,152.28 L559.84,152.46 L559.86,152.64 L559.88,152.81 L559.90,152.99 L559.92,153.16 L559.94,153.33 L559.96,153.49 L559.98,153.66 L560.00,153.82 L560.02,153.98 L560.04,154.14 L560.06,154.30 L560.08,154.45 L560.10,154.61 L560.12,154.76 L560.14,154.92 L560.16,155.07 L560.18,155.22 L560.20,155.37 L560.22,155.53 L560.24,155.68 L560.26,155.83 L560.28,155.98 L560.30,156.13 L560.32,156.28 L560.34,156.44 L560.36,156.59 L560.38,156.75 L560.40,156.90 L560.42,157.06 L560.44,157.22 L560.46,157.38 L560.48,157.54 L560.50,157.70 L560.52,157.86 L560.54,158.03 L560.56,158.19 L560.58,158.35 L560.60,158.52 L560.62,158.68 L560.64,158.84 L560.66,159.00 L560.68,159.17 L560.70,159.33 L560.72,159.49 L560.74,159.65 L560.76,159.81 L560.78,159.97 L560.80,160.13 L560.82,160.29 L560.84,160.45 L560.86,160.61 L560.88,160.77 L560.90,160.92 L560.92,161.08 L560.94,161.24 L560.96,161.40 L560.98,161.55 L561.00,161.71 L561.10,162.48 L561.20,163.24 L561.30,163.98 L561.40,164.71 L561.50,165.43 L561.60,166.12 L561.70,166.79 L561.80,167.44 L561.90,168.07 L562.00,168.67 L562.10,169.25 L562.20,169.80 L562.30,170.33 L562.40,170.83 L562.50,171.32 L562.60,171.79 L562.70,172.25 L562.80,172.69 L562.90,173.13 L563.00,173.55 L563.10,173.96 L563.20,174.36 L563.30,174.76 L563.40,175.15 L563.50,175.54 L563.60,175.93 L563.70,176.32 L563.80,176.71 L563.90,177.10 L564.00,177.49 L564.10,177.89 L564.20,178.30 L564.30,178.73 L564.40,179.15 L564.50,179.57 L564.60,179.98 L564.70,180.38 L564.80,180.77 L564.90,181.16 L565.00,181.54 L565.10,181.92 L565.20,182.28 L565.30,182.65 L565.40,183.00 L565.50,183.35 L565.60,183.70 L565.70,184.04 L565.80,184.37 L565.90,184.70 L566.00,185.02 L566.10,185.34 L566.20,185.65 L566.30,185.96 L566.40,186.27 L566.50,186.57 L566.60,186.87 L566.70,187.16 L566.80,187.45 L566.90,187.73 L567.00,188.01 L567.10,188.29 L567.20,188.56 L567.30,188.83 L567.40,189.10 L567.50,189.36 L567.60,189.62 L567.70,189.88 L567.80,190.13 L567.90,190.38 L568.00,190.63 L568.10,190.88 L568.20,191.12 L568.30,191.36 L568.40,191.59 L568.50,191.82 L568.60,192.05 L568.70,192.28 L568.80,192.51 L568.90,192.73 L569.00,192.95 L569.10,193.17 L569.20,193.38 L569.30,193.60 L569.40,193.81 L569.50,194.02 L569.60,194.22 L569.70,194.43 L569.80,194.63 L569.90,194.83 L570.00,195.03 L570.10,195.23 L570.20,195.42 L570.30,195.61 L570.33,195.68" fill="none" stroke="#78c236" stroke-width="2.0" stroke-linejoin="round" stroke-dasharray="7.6 2.3 1.4 1.9"/>
<path d="M570.33,195.68 L570.40,195.80 L570.50,195.99 L570.60,196.18 L570.70,196.36 L570.80,196.55 L570.90,196.73 L571.00,196.91 L571.10,197.09 L571.20,197.27 L571.30,197.44 L571.40,197.61 L571.50,197.79 L571.60,197.96 L571.70,198.13 L571.80,198.29 L571.90,198.46 L572.00,198.62 L572.10,198.79 L572.20,198.95 L572.30,199.11 L572.40,199.27 L572.50,199.43 L572.60,199.58 L572.70,199.74 L572.80,199.89 L572.90,200.04 L573.00,200.20 L573.10,200.35 L573.20,200.49 L573.30,200.64 L573.40,200.79 L573.50,200.93 L573.60,201.08 L573.70,201.22 L573.80,201.36 L573.90,201.51 L574.00,201.65 L574.10,201.78 L574.20,201.92 L574.30,202.06 L574.40,202.19 L574.50,202.33 L574.60,202.46 L574.70,202.60 L574.80,202.73 L574.90,202.86 L575.00,202.99 L575.10,203.12 L575.20,203.25 L575.30,203.37 L575.40,203.50 L575.50,203.63 L575.60,203.75 L575.70,203.87 L575.80,204.00 L575.90,204.12 L576.00,204.24 L576.10,204.36 L576.20,204.48 L576.30,204.60 L576.40,204.72 L576.50,204.84 L576.60,204.95 L576.70,205.07 L576.80,205.18 L576.90,205.30 L577.00,205.41 L577.10,205.52 L577.20,205.64 L577.30,205.75 L577.40,205.86 L577.50,205.97 L577.60,206.08 L577.70,206.19 L577.80,206.29 L577.90,206.40 L578.00,206.51 L578.10,206.61 L578.20,206.72 L578.30,206.82 L578.40,206.93 L578.50,207.03 L578.60,207.13 L578.70,207.24 L578.80,207.34 L578.90,207.44 L579.00,207.54 L579.10,207.64 L579.20,207.74 L579.30,207.84 L579.40,207.94 L579.50,208.03 L579.60,208.13 L579.70,208.23 L579.80,208.32 L579.90,208.42 L580.00,208.51 L580.10,208.61 L580.20,208.70 L580.30,208.79 L580.40,208.89 L580.50,208.98 L580.60,209.07 L580.70,209.16 L580.80,209.25 L580.90,209.34 L581.00,209.43 L581.10,209.52 L581.20,209.61 L581.30,209.70 L581.40,209.79 L581.50,209.88 L581.60,209.96 L581.70,210.05 L581.80,210.14 L581.90,210.22 L582.00,210.31 L582.10,210.39 L582.20,210.48 L582.30,210.56 L582.40,210.64 L582.50,210.73 L582.60,210.81 L582.70,210.89 L582.80,210.97 L582.90,211.05 L583.00,211.14 L583.10,211.22 L583.20,211.30 L583.30,211.38 L583.40,211.46 L583.50,211.53 L583.60,211.61 L583.70,211.69 L583.80,211.77 L583.90,211.85 L584.00,211.92 L584.10,212.00 L584.20,212.08 L584.30,212.15 L584.40,212.23 L584.50,212.31 L584.60,212.38 L584.70,212.45 L584.80,212.53 L584.90,212.60 L585.00,212.68 L585.10,212.75 L585.20,212.82 L585.30,212.90 L585.40,212.97 L585.50,213.04 L585.60,213.11 L585.70,213.18 L585.80,213.25 L585.90,213.33 L586.00,213.40 L586.10,213.47 L586.20,213.54 L586.30,213.61 L586.40,213.67 L586.50,213.74 L586.60,213.81 L586.70,213.88 L586.80,213.95 L586.90,214.02 L587.00,214.08 L587.10,214.15 L587.20,214.22 L587.30,214.28 L587.40,214.35 L587.50,214.42 L587.60,214.48 L587.70,214.55 L587.80,214.61 L587.90,214.68 L588.00,214.74 L588.10,214.81 L588.20,214.87 L588.30,214.93 L588.40,215.00 L588.50,215.06 L588.60,215.12 L588.70,215.19 L588.80,215.25 L588.90,215.31 L589.00,215.37 L589.10,215.44 L589.20,215.50 L589.30,215.56 L589.40,215.62 L589.50,215.68 L589.60,215.74 L589.70,215.80 L589.80,215.86 L589.90,215.92 L590.00,215.98 L591.00,216.57 L592.00,217.13 L593.00,217.67 L594.00,218.19 L595.00,218.70 L596.00,219.19 L597.00,219.66 L598.00,220.11 L598.70,220.43" fill="none" stroke="#78c236" stroke-width="2.0" stroke-linejoin="round" stroke-dasharray="7.6 2.3 1.4 1.9"/>
<path d="M598.70,220.43 L599.00,220.56 L600.00,220.99 L601.00,221.40 L602.00,221.81 L603.00,222.20 L604.00,222.58 L605.00,222.95 L606.00,223.31 L607.00,223.66 L608.00,224.01 L609.00,224.34 L610.00,224.66 L611.00,224.98 L612.00,225.29 L613.00,225.59 L614.00,225.89 L615.00,226.18 L616.00,226.46 L617.00,226.73 L618.00,227.00 L619.00,227.27 L620.00,227.53 L621.00,227.78 L622.00,228.03 L623.00,228.27 L624.00,228.51 L625.00,228.74 L626.00,228.97 L627.00,229.19 L627.08,229.21" fill="none" stroke="#78c236" stroke-width="2.0" stroke-linejoin="round" stroke-dasharray="7.6 2.3 1.4 1.9"/>
<path d="M627.08,229.21 L628.00,229.41 L629.00,229.63 L630.00,229.84 L631.00,230.05 L632.00,230.25 L633.00,230.45 L634.00,230.65 L635.00,230.84 L636.00,231.03 L637.00,231.21 L638.00,231.40 L639.00,231.58 L640.00,231.76 L641.00,231.93 L642.00,232.10 L643.00,232.27 L644.00,232.44 L645.00,232.60 L646.00,232.76 L647.00,232.92 L648.00,233.08 L649.00,233.23 L650.00,233.38 L651.00,233.53 L652.00,233.68 L653.00,233.82 L654.00,233.96 L655.00,234.10 L655.45,234.17" fill="none" stroke="#78c236" stroke-width="2.0" stroke-linejoin="round" stroke-dasharray="7.6 2.3 1.4 1.9"/>
<path d="M655.45,234.17 L656.00,234.24 L657.00,234.38 L658.00,234.51 L659.00,234.65 L660.00,234.78 L661.00,234.91 L662.00,235.04 L663.00,235.16 L664.00,235.29 L665.00,235.41 L666.00,235.53 L667.00,235.65 L668.00,235.77 L669.00,235.88 L670.00,236.00 L671.00,236.11 L672.00,236.22 L673.00,236.33 L674.00,236.44 L675.00,236.55 L676.00,236.66 L677.00,236.76 L678.00,236.87 L679.00,236.97 L680.00,237.07 L681.00,237.17 L682.00,237.27 L683.00,237.37 L683.82,237.45" fill="none" stroke="#78c236" stroke-width="2.0" stroke-linejoin="round" stroke-dasharray="7.6 2.3 1.4 1.9"/>
<path d="M683.82,237.45 L684.00,237.47 L685.00,237.56 L686.00,237.66 L687.00,237.75 L688.00,237.85 L689.00,237.94 L690.00,238.03 L691.00,238.12 L692.00,238.21 L693.00,238.29 L694.00,238.38 L695.00,238.47 L696.00,238.55 L697.00,238.64 L698.00,238.72 L699.00,238.80 L700.00,238.88 L701.00,238.96 L702.00,239.04 L703.00,239.12 L704.00,239.20 L705.00,239.28 L706.00,239.36 L707.00,239.43 L708.00,239.51 L709.00,239.58 L710.00,239.65 L711.00,239.73 L712.00,239.80 L712.19,239.81" fill="none" stroke="#78c236" stroke-width="2.0" stroke-linejoin="round" stroke-dasharray="7.6 2.3 1.4 1.9"/>
<path d="M712.19,239.81 L713.00,239.87 L714.00,239.94 L715.00,240.01 L716.00,240.08 L717.00,240.15 L718.00,240.22 L719.00,240.29 L720.00,240.35 L721.00,240.42 L722.00,240.49 L723.00,240.55 L724.00,240.62 L725.00,240.68 L726.00,240.74 L727.00,240.81 L728.00,240.87 L729.00,240.93 L730.00,240.99 L731.00,241.05 L732.00,241.11 L733.00,241.17 L734.00,241.23 L735.00,241.29 L736.00,241.35 L737.00,241.40 L738.00,241.46 L739.00,241.52 L740.00,241.57 L740.56,241.60" fill="none" stroke="#78c236" stroke-width="2.0" stroke-linejoin="round" stroke-dasharray="7.6 2.3 1.4 1.9"/>
<path d="M740.56,241.60 L741.00,241.63 L742.00,241.68 L743.00,241.74 L744.00,241.79 L745.00,241.85 L746.00,241.90 L747.00,241.95 L748.00,242.00 L749.00,242.06 L750.00,242.11 L751.00,242.16 L752.00,242.21 L753.00,242.26 L754.00,242.31 L755.00,242.36 L756.00,242.41 L757.00,242.46 L758.00,242.51 L759.00,242.55 L760.00,242.60 L761.00,242.65 L762.00,242.69 L763.00,242.74 L764.00,242.79 L765.00,242.83 L766.00,242.88 L767.00,242.92 L768.00,242.97 L768.93,243.01" fill="none" stroke="#78c236" stroke-width="2.0" stroke-linejoin="round" stroke-dasharray="7.6 2.3 1.4 1.9"/>
<path d="M768.93,243.01 L769.00,243.01 L770.00,243.06 L771.00,243.10 L772.00,243.14 L773.00,243.19 L774.00,243.23 L775.00,243.27 L776.00,243.31 L777.00,243.35 L778.00,243.40 L779.00,243.44 L780.00,243.48 L780.60,243.50" fill="none" stroke="#78c236" stroke-width="2.0" stroke-linejoin="round" stroke-dasharray="7.6 2.3 1.4 1.9"/>
</g>
<path d="M309.00,196.60 L374.40,196.60" fill="none" stroke="#8b2917" stroke-width="2.0" stroke-linejoin="round"/>
<path d="M309.00,220.50 L374.40,220.50" fill="none" stroke="#72cff5" stroke-width="2.0" stroke-linejoin="round"/>
<path d="M309.00,244.40 L374.40,244.40" fill="none" stroke="#78c236" stroke-width="2.0" stroke-linejoin="round" stroke-dasharray="7.6 2.3 1.4 1.9"/>
<line x1="229.88" y1="27.70" x2="229.88" y2="35.20" stroke="#000" stroke-width="1.4"/>
<line x1="229.88" y1="303.00" x2="229.88" y2="295.50" stroke="#000" stroke-width="1.4"/>
<line x1="343.37" y1="27.70" x2="343.37" y2="35.20" stroke="#000" stroke-width="1.4"/>
<line x1="343.37" y1="303.00" x2="343.37" y2="295.50" stroke="#000" stroke-width="1.4"/>
<line x1="456.85" y1="27.70" x2="456.85" y2="35.20" stroke="#000" stroke-width="1.4"/>
<line x1="456.85" y1="303.00" x2="456.85" y2="295.50" stroke="#000" stroke-width="1.4"/>
<line x1="570.33" y1="27.70" x2="570.33" y2="35.20" stroke="#000" stroke-width="1.4"/>
<line x1="570.33" y1="303.00" x2="570.33" y2="295.50" stroke="#000" stroke-width="1.4"/>
<line x1="683.82" y1="27.70" x2="683.82" y2="35.20" stroke="#000" stroke-width="1.4"/>
<line x1="683.82" y1="303.00" x2="683.82" y2="295.50" stroke="#000" stroke-width="1.4"/>
<text x="101.8" y="36.20" text-anchor="end" font-family="Liberation Sans, sans-serif" font-size="24" fill="#000">0.8</text>
<line x1="116.40" y1="85.10" x2="123.90" y2="85.10" stroke="#000" stroke-width="1.4"/>
<line x1="797.30" y1="85.10" x2="789.80" y2="85.10" stroke="#000" stroke-width="1.4"/>
<text x="101.8" y="93.60" text-anchor="end" font-family="Liberation Sans, sans-serif" font-size="24" fill="#000">0.7</text>
<line x1="116.40" y1="142.50" x2="123.90" y2="142.50" stroke="#000" stroke-width="1.4"/>
<line x1="797.30" y1="142.50" x2="789.80" y2="142.50" stroke="#000" stroke-width="1.4"/>
<text x="101.8" y="151.00" text-anchor="end" font-family="Liberation Sans, sans-serif" font-size="24" fill="#000">0.6</text>
<line x1="116.40" y1="199.90" x2="123.90" y2="199.90" stroke="#000" stroke-width="1.4"/>
<line x1="797.30" y1="199.90" x2="789.80" y2="199.90" stroke="#000" stroke-width="1.4"/>
<text x="101.8" y="208.40" text-anchor="end" font-family="Liberation Sans, sans-serif" font-size="24" fill="#000">0.5</text>
<line x1="116.40" y1="257.30" x2="123.90" y2="257.30" stroke="#000" stroke-width="1.4"/>
<line x1="797.30" y1="257.30" x2="789.80" y2="257.30" stroke="#000" stroke-width="1.4"/>
<text x="101.8" y="265.80" text-anchor="end" font-family="Liberation Sans, sans-serif" font-size="24" fill="#000">0.4</text>
<rect x="116.40" y="27.70" width="680.90" height="275.30" fill="none" stroke="#000" stroke-width="1.4"/>
<g clip-path="url(#cb)">
<line x1="559.20" y1="303.00" x2="559.20" y2="578.40" stroke="#000" stroke-width="1.8"/>
<path d="M116.40,386.20 L118.40,386.19 L120.40,386.19 L122.40,386.18 L124.40,386.17 L126.40,386.16 L128.40,386.15 L130.40,386.14 L132.40,386.13 L134.40,386.11 L136.40,386.10 L138.40,386.09 L140.40,386.07 L142.40,386.06 L144.40,386.04 L146.40,386.02 L148.40,386.00 L150.40,385.99 L152.40,385.97 L154.40,385.95 L156.40,385.92 L158.40,385.90 L160.40,385.88 L162.40,385.85 L164.40,385.83 L166.40,385.80 L168.40,385.77 L170.40,385.74 L172.40,385.71 L174.40,385.68 L176.40,385.65 L178.40,385.62 L180.40,385.58 L182.40,385.55 L184.40,385.51 L186.40,385.47 L188.40,385.43 L190.40,385.39 L192.40,385.35 L194.40,385.31 L196.40,385.26 L198.40,385.21 L200.40,385.17 L202.40,385.12 L204.40,385.07 L206.40,385.02 L208.40,384.96 L210.40,384.91 L212.40,384.85 L214.40,384.79 L216.40,384.73 L218.40,384.67 L220.40,384.61 L222.40,384.54 L224.40,384.48 L226.40,384.41 L228.40,384.34 L230.40,384.27 L232.40,384.20 L234.40,384.12 L236.40,384.05 L238.40,383.97 L240.40,383.89 L242.40,383.81 L244.40,383.72 L246.40,383.64 L248.40,383.55 L250.40,383.46 L252.40,383.37 L254.40,383.28 L256.40,383.18 L258.40,383.09 L260.40,382.99 L262.40,382.89 L264.40,382.78 L266.40,382.68 L268.40,382.57 L270.40,382.46 L272.40,382.35 L274.40,382.24 L276.40,382.12 L278.40,382.00 L280.40,381.88 L282.40,381.76 L284.40,381.64 L286.40,381.51 L288.40,381.38 L290.40,381.25 L292.40,381.12 L294.40,380.98 L296.40,380.84 L298.40,380.70 L300.40,380.56 L302.40,380.41 L304.40,380.26 L306.40,380.11 L308.40,379.96 L310.40,379.80 L312.40,379.65 L314.40,379.48 L316.40,379.32 L318.40,379.16 L320.40,378.99 L322.40,378.82 L324.40,378.64 L326.40,378.47 L328.40,378.29 L330.40,378.10 L332.40,377.92 L334.40,377.73 L336.40,377.54 L338.40,377.35 L340.40,377.15 L342.40,376.95 L344.40,376.75 L346.40,376.55 L348.40,376.34 L350.40,376.13 L352.40,375.92 L354.40,375.70 L356.40,375.48 L358.40,375.26 L360.40,375.04 L362.40,374.81 L364.40,374.58 L366.40,374.34 L368.40,374.10 L370.40,373.86 L372.40,373.62 L374.40,373.37 L376.40,373.12 L378.40,372.87 L380.40,372.61 L382.40,372.35 L384.40,372.09 L386.40,371.83 L388.40,371.56 L390.40,371.28 L392.40,371.01 L394.40,370.73 L396.40,370.44 L398.40,370.16 L400.40,369.87 L402.40,369.58 L404.40,369.28 L406.40,368.98 L408.40,368.67 L410.40,368.37 L412.40,368.06 L414.40,367.74 L416.40,367.42 L418.40,367.10 L420.40,366.78 L422.40,366.45 L424.40,366.12 L426.40,365.78 L428.40,365.44 L430.40,365.10 L432.40,364.75 L434.40,364.40 L436.40,364.04 L438.40,363.68 L440.40,363.32 L442.40,362.96 L444.40,362.58 L446.40,362.21 L448.40,361.83 L450.40,361.45 L452.40,361.06 L454.40,360.67 L456.40,360.28 L458.40,359.88 L460.40,359.48 L462.40,359.07 L464.40,358.66 L466.40,358.25 L468.40,357.83 L470.40,357.41 L472.40,356.98 L474.40,356.55 L476.40,356.12 L478.40,355.68 L480.40,355.23 L482.40,354.79 L484.40,354.33 L486.40,353.88 L488.40,353.42 L490.40,352.95 L492.40,352.48 L494.40,352.01 L496.40,351.53 L498.40,351.05 L500.40,350.56 L502.40,350.07 L504.40,349.57 L506.40,349.07 L508.40,348.57 L510.40,348.06 L512.40,347.54 L514.40,347.02 L516.40,346.50 L518.40,345.97 L520.40,345.44 L522.40,344.90 L524.40,344.36 L526.40,343.81 L528.40,343.26 L530.00,342.82 L530.50,342.68 L531.00,342.54 L531.50,342.39 L532.00,342.25 L532.50,342.11 L533.00,341.96 L533.50,341.82 L534.00,341.68 L534.50,341.54 L535.00,341.40 L535.50,341.26 L536.00,341.13 L536.50,341.00 L537.00,340.87 L537.50,340.74 L538.00,340.62 L538.50,340.49 L539.00,340.37 L539.50,340.25 L540.00,340.13 L540.50,340.01 L541.00,339.89 L541.50,339.78 L542.00,339.66 L542.50,339.54 L543.00,339.42 L543.50,339.29 L544.00,339.17 L544.50,339.04 L545.00,338.91 L545.50,338.78 L546.00,338.65 L546.50,338.50 L547.00,338.36 L547.50,338.21 L548.00,338.06 L548.50,337.91 L549.00,337.76 L549.50,337.61 L550.00,337.47 L550.50,337.33 L551.00,337.19 L551.50,337.05 L552.00,336.92 L552.50,336.79 L553.00,336.66 L553.50,336.54 L554.00,336.44 L554.50,336.34 L555.00,336.25 L555.50,336.16 L556.00,336.07 L556.50,336.01 L557.00,335.96 L557.50,335.94 L558.00,335.92 L558.50,335.90 L558.90,335.90 L775.90,335.90" fill="none" stroke="#8b2917" stroke-width="2.0" stroke-linejoin="round"/>
<path d="M116.40,578.39 L118.40,578.05 L120.40,577.71 L122.40,577.36 L124.40,577.01 L126.40,576.66 L128.40,576.31 L130.40,575.95 L132.40,575.60 L134.40,575.24 L136.40,574.88 L138.40,574.52 L140.40,574.16 L142.40,573.80 L144.40,573.43 L146.40,573.06 L148.40,572.69 L150.40,572.32 L152.40,571.95 L154.40,571.58 L156.40,571.20 L158.40,570.83 L160.40,570.45 L162.40,570.07 L164.40,569.69 L166.40,569.31 L168.40,568.92 L170.40,568.54 L172.40,568.15 L174.40,567.76 L176.40,567.37 L178.40,566.98 L180.40,566.59 L182.40,566.20 L184.40,565.80 L186.40,565.41 L188.40,565.01 L190.40,564.61 L192.40,564.21 L194.40,563.81 L196.40,563.41 L198.40,563.00 L200.40,562.60 L202.40,562.19 L204.40,561.78 L206.40,561.37 L208.40,560.97 L210.40,560.55 L212.40,560.14 L214.40,559.73 L216.40,559.32 L218.40,558.90 L220.40,558.48 L222.40,558.07 L224.40,557.65 L226.40,557.23 L228.40,556.81 L230.40,556.39 L232.40,555.97 L234.40,555.54 L236.40,555.12 L238.40,554.69 L240.40,554.27 L242.40,553.84 L244.40,553.41 L246.40,552.99 L248.40,552.56 L250.40,552.13 L252.40,551.70 L254.40,551.26 L256.40,550.83 L258.40,550.40 L260.40,549.96 L262.40,549.53 L264.40,549.09 L266.40,548.66 L268.40,548.22 L270.40,547.78 L272.40,547.35 L274.40,546.91 L276.40,546.47 L278.40,546.03 L280.40,545.59 L282.40,545.15 L284.40,544.70 L286.40,544.26 L288.40,543.82 L290.40,543.37 L292.40,542.93 L294.40,542.49 L296.40,542.04 L298.40,541.60 L300.40,541.15 L302.40,540.70 L304.40,540.26 L306.40,539.81 L308.40,539.36 L310.40,538.92 L312.40,538.47 L314.40,538.02 L316.40,537.57 L318.40,537.12 L320.40,536.67 L322.40,536.22 L324.40,535.77 L326.40,535.32 L328.40,534.87 L330.40,534.42 L332.40,533.97 L334.40,533.52 L336.40,533.07 L338.40,532.62 L340.40,532.17 L342.40,531.72 L344.40,531.26 L346.40,530.81 L348.40,530.36 L350.40,529.91 L352.40,529.46 L354.40,529.00 L356.40,528.55 L358.40,528.10 L360.40,527.65 L362.40,527.20 L364.40,526.74 L366.40,526.29 L368.40,525.84 L370.40,525.39 L372.40,524.94 L374.40,524.49 L376.40,524.03 L378.40,523.58 L380.40,523.13 L382.40,522.68 L384.40,522.23 L386.40,521.78 L388.40,521.33 L390.40,520.88 L392.40,520.43 L394.40,519.98 L396.40,519.53 L398.40,519.08 L400.40,518.64 L402.40,518.19 L404.40,517.74 L406.40,517.29 L408.40,516.84 L410.40,516.40 L412.40,515.95 L414.40,515.51 L416.40,515.06 L418.40,514.62 L420.40,514.17 L422.40,513.73 L424.40,513.28 L426.40,512.84 L428.40,512.40 L430.40,511.96 L432.40,511.52 L434.40,511.08 L436.40,510.64 L438.40,510.20 L440.40,509.76 L442.40,509.33 L444.40,508.90 L446.40,508.46 L448.40,508.04 L450.40,507.61 L452.40,507.19 L454.40,506.76 L456.40,506.34 L458.40,505.93 L460.40,505.52 L462.40,505.11 L464.40,504.70 L466.40,504.30 L468.40,503.90 L470.40,503.50 L472.40,503.11 L474.40,502.72 L476.40,502.34 L478.40,501.96 L480.40,501.59 L482.40,501.22 L484.40,500.85 L486.40,500.50 L488.40,500.14 L490.40,499.79 L492.40,499.45 L494.40,499.11 L496.40,498.78 L498.40,498.46 L500.40,498.14 L502.40,497.82 L504.40,497.52 L506.40,497.22 L508.40,496.93 L510.40,496.64 L512.40,496.36 L514.40,496.09 L516.40,495.83 L518.40,495.57 L520.40,495.32 L522.40,495.08 L524.40,494.85 L526.40,494.62 L528.40,494.41 L530.40,494.20 L532.40,494.00 L534.40,493.81 L536.40,493.63 L538.40,493.46 L540.40,493.30 L542.40,493.15 L544.40,493.00 L546.40,492.87 L548.40,492.75 L550.40,492.63 L552.40,492.53 L554.40,492.44 L556.40,492.36 L558.40,492.29 L558.90,492.27 L775.90,450.60" fill="none" stroke="#8b2917" stroke-width="2.0" stroke-linejoin="round"/>
<path d="M116.40,386.20 L789.80,386.20" fill="none" stroke="#72cff5" stroke-width="2.0" stroke-linejoin="round"/>
<path d="M116.40,578.40 L558.90,493.57 L789.90,450.58" fill="none" stroke="#72cff5" stroke-width="2.0" stroke-linejoin="round"/>
<path d="M545.00,492.96 L552.00,492.55 L558.90,492.27 L775.90,450.60" fill="none" stroke="#8b2917" stroke-width="2.0" stroke-linejoin="round"/>
</g>
<line x1="229.88" y1="303.00" x2="229.88" y2="310.50" stroke="#000" stroke-width="1.4"/>
<line x1="229.88" y1="578.40" x2="229.88" y2="570.90" stroke="#000" stroke-width="1.4"/>
<line x1="343.37" y1="303.00" x2="343.37" y2="310.50" stroke="#000" stroke-width="1.4"/>
<line x1="343.37" y1="578.40" x2="343.37" y2="570.90" stroke="#000" stroke-width="1.4"/>
<line x1="456.85" y1="303.00" x2="456.85" y2="310.50" stroke="#000" stroke-width="1.4"/>
<line x1="456.85" y1="578.40" x2="456.85" y2="570.90" stroke="#000" stroke-width="1.4"/>
<line x1="570.33" y1="303.00" x2="570.33" y2="310.50" stroke="#000" stroke-width="1.4"/>
<line x1="570.33" y1="578.40" x2="570.33" y2="570.90" stroke="#000" stroke-width="1.4"/>
<line x1="683.82" y1="303.00" x2="683.82" y2="310.50" stroke="#000" stroke-width="1.4"/>
<line x1="683.82" y1="578.40" x2="683.82" y2="570.90" stroke="#000" stroke-width="1.4"/>
<text x="101.8" y="586.90" text-anchor="end" font-family="Liberation Sans, sans-serif" font-size="24" fill="#000">0</text>
<line x1="116.40" y1="531.72" x2="123.90" y2="531.72" stroke="#000" stroke-width="1.4"/>
<line x1="797.30" y1="531.72" x2="789.80" y2="531.72" stroke="#000" stroke-width="1.4"/>
<text x="101.8" y="540.22" text-anchor="end" font-family="Liberation Sans, sans-serif" font-size="24" fill="#000">0.1</text>
<line x1="116.40" y1="485.04" x2="123.90" y2="485.04" stroke="#000" stroke-width="1.4"/>
<line x1="797.30" y1="485.04" x2="789.80" y2="485.04" stroke="#000" stroke-width="1.4"/>
<text x="101.8" y="493.54" text-anchor="end" font-family="Liberation Sans, sans-serif" font-size="24" fill="#000">0.2</text>
<line x1="116.40" y1="438.36" x2="123.90" y2="438.36" stroke="#000" stroke-width="1.4"/>
<line x1="797.30" y1="438.36" x2="789.80" y2="438.36" stroke="#000" stroke-width="1.4"/>
<text x="101.8" y="446.86" text-anchor="end" font-family="Liberation Sans, sans-serif" font-size="24" fill="#000">0.3</text>
<line x1="116.40" y1="391.68" x2="123.90" y2="391.68" stroke="#000" stroke-width="1.4"/>
<line x1="797.30" y1="391.68" x2="789.80" y2="391.68" stroke="#000" stroke-width="1.4"/>
<text x="101.8" y="400.18" text-anchor="end" font-family="Liberation Sans, sans-serif" font-size="24" fill="#000">0.4</text>
<line x1="116.40" y1="345.00" x2="123.90" y2="345.00" stroke="#000" stroke-width="1.4"/>
<line x1="797.30" y1="345.00" x2="789.80" y2="345.00" stroke="#000" stroke-width="1.4"/>
<text x="101.8" y="353.50" text-anchor="end" font-family="Liberation Sans, sans-serif" font-size="24" fill="#000">0.5</text>
<rect x="116.40" y="303.00" width="680.90" height="275.40" fill="none" stroke="#000" stroke-width="1.4"/>
<g clip-path="url(#cc)">
<line x1="559.20" y1="578.40" x2="559.20" y2="853.70" stroke="#000" stroke-width="1.8"/>
<path d="M116.40,679.90 L117.40,679.90 L118.40,679.90 L119.40,679.91 L120.40,679.91 L121.40,679.91 L122.40,679.92 L123.40,679.92 L124.40,679.92 L125.40,679.93 L126.40,679.94 L127.40,679.94 L128.40,679.95 L129.40,679.96 L130.40,679.96 L131.40,679.97 L132.40,679.98 L133.40,679.99 L134.40,680.00 L135.40,680.01 L136.40,680.02 L137.40,680.03 L138.40,680.05 L139.40,680.06 L140.40,680.07 L141.40,680.09 L142.40,680.10 L143.40,680.11 L144.40,680.13 L145.40,680.15 L146.40,680.16 L147.40,680.18 L148.40,680.20 L149.40,680.22 L150.40,680.23 L151.40,680.25 L152.40,680.27 L153.40,680.29 L154.40,680.32 L155.40,680.34 L156.40,680.36 L157.40,680.38 L158.40,680.40 L159.40,680.43 L160.40,680.45 L161.40,680.48 L162.40,680.50 L163.40,680.53 L164.40,680.56 L165.40,680.58 L166.40,680.61 L167.40,680.64 L168.40,680.67 L169.40,680.70 L170.40,680.73 L171.40,680.76 L172.40,680.79 L173.40,680.82 L174.40,680.85 L175.40,680.89 L176.40,680.92 L177.40,680.95 L178.40,680.99 L179.40,681.02 L180.40,681.06 L181.40,681.10 L182.40,681.13 L183.40,681.17 L184.40,681.21 L185.40,681.25 L186.40,681.29 L187.40,681.33 L188.40,681.37 L189.40,681.41 L190.40,681.45 L191.40,681.49 L192.40,681.54 L193.40,681.58 L194.40,681.62 L195.40,681.67 L196.40,681.71 L197.40,681.76 L198.40,681.81 L199.40,681.85 L200.40,681.90 L201.40,681.95 L202.40,682.00 L203.40,682.05 L204.40,682.10 L205.40,682.15 L206.40,682.20 L207.40,682.25 L208.40,682.30 L209.40,682.36 L210.40,682.41 L211.40,682.47 L212.40,682.52 L213.40,682.58 L214.40,682.63 L215.40,682.69 L216.40,682.75 L217.40,682.81 L218.40,682.86 L219.40,682.92 L220.40,682.98 L221.40,683.04 L222.40,683.11 L223.40,683.17 L224.40,683.23 L225.40,683.29 L226.40,683.36 L227.40,683.42 L228.40,683.49 L229.40,683.55 L230.40,683.62 L231.40,683.69 L232.40,683.75 L233.40,683.82 L234.40,683.89 L235.40,683.96 L236.40,684.03 L237.40,684.10 L238.40,684.17 L239.40,684.25 L240.40,684.32 L241.40,684.39 L242.40,684.47 L243.40,684.54 L244.40,684.62 L245.40,684.69 L246.40,684.77 L247.40,684.85 L248.40,684.93 L249.40,685.01 L250.40,685.09 L251.40,685.17 L252.40,685.25 L253.40,685.33 L254.40,685.41 L255.40,685.49 L256.40,685.58 L257.40,685.66 L258.40,685.75 L259.40,685.83 L260.40,685.92 L261.40,686.01 L262.40,686.09 L263.40,686.18 L264.40,686.27 L265.40,686.36 L266.40,686.45 L267.40,686.54 L268.40,686.64 L269.40,686.73 L270.40,686.82 L271.40,686.92 L272.40,687.01 L273.40,687.11 L274.40,687.20 L275.40,687.30 L276.40,687.40 L277.40,687.50 L278.40,687.60 L279.40,687.70 L280.40,687.80 L281.40,687.90 L282.40,688.00 L283.40,688.10 L284.40,688.21 L285.40,688.31 L286.40,688.42 L287.40,688.52 L288.40,688.63 L289.40,688.74 L290.40,688.84 L291.40,688.95 L292.40,689.06 L293.40,689.17 L294.40,689.28 L295.40,689.40 L296.40,689.51 L297.40,689.62 L298.40,689.74 L299.40,689.85 L300.40,689.97 L301.40,690.08 L302.40,690.20 L303.40,690.32 L304.40,690.44 L305.40,690.56 L306.40,690.68 L307.40,690.80 L308.40,690.92 L309.40,691.04 L310.40,691.17 L311.40,691.29 L312.40,691.41 L313.40,691.54 L314.40,691.67 L315.40,691.79 L316.40,691.92 L317.40,692.05 L318.40,692.18 L319.40,692.31 L320.40,692.44 L321.40,692.58 L322.40,692.71 L323.40,692.84 L324.40,692.98 L325.40,693.11 L326.40,693.25 L327.40,693.39 L328.40,693.53 L329.40,693.67 L330.40,693.80 L331.40,693.95 L332.40,694.09 L333.40,694.23 L334.40,694.37 L335.40,694.52 L336.40,694.66 L337.40,694.81 L338.40,694.95 L339.40,695.10 L340.40,695.25 L341.40,695.40 L342.40,695.55 L343.40,695.70 L344.40,695.85 L345.40,696.01 L346.40,696.16 L347.40,696.31 L348.40,696.47 L349.40,696.63 L350.40,696.78 L351.40,696.94 L352.40,697.10 L353.40,697.26 L354.40,697.42 L355.40,697.59 L356.40,697.75 L357.40,697.91 L358.40,698.08 L359.40,698.24 L360.40,698.41 L361.40,698.58 L362.40,698.75 L363.40,698.91 L364.40,699.09 L365.40,699.26 L366.40,699.43 L367.40,699.60 L368.40,699.78 L369.40,699.95 L370.40,700.13 L371.40,700.31 L372.40,700.48 L373.40,700.66 L374.40,700.84 L375.40,701.03 L376.40,701.21 L377.40,701.39 L378.40,701.58 L379.40,701.76 L380.40,701.95 L381.40,702.14 L382.40,702.32 L383.40,702.51 L384.40,702.70 L385.40,702.90 L386.40,703.09 L387.40,703.28 L388.40,703.47 L389.40,703.67 L390.40,703.86 L391.40,704.06 L392.40,704.26 L393.40,704.45 L394.40,704.65 L395.40,704.85 L396.40,705.05 L397.40,705.25 L398.40,705.45 L399.40,705.65 L400.40,705.85 L401.40,706.06 L402.40,706.26 L403.40,706.46 L404.40,706.67 L405.40,706.87 L406.40,707.07 L407.40,707.28 L408.40,707.48 L409.40,707.69 L410.40,707.89 L411.40,708.10 L412.40,708.30 L413.40,708.51 L414.40,708.71 L415.40,708.92 L416.40,709.12 L417.40,709.33 L418.40,709.53 L419.40,709.74 L420.40,709.94 L421.40,710.14 L422.40,710.35 L423.40,710.55 L424.40,710.75 L425.40,710.96 L426.40,711.16 L427.40,711.36 L428.40,711.56 L429.40,711.76 L430.40,711.96 L431.40,712.16 L432.40,712.35 L433.40,712.55 L434.40,712.74 L435.40,712.94 L436.40,713.13 L437.40,713.32 L438.40,713.51 L439.40,713.70 L440.40,713.89 L441.40,714.08 L442.40,714.26 L443.40,714.45 L444.40,714.63 L445.40,714.81 L446.40,714.98 L447.40,715.16 L448.40,715.33 L449.40,715.51 L450.40,715.68 L451.40,715.84 L452.40,716.01 L453.40,716.17 L454.40,716.33 L455.40,716.48 L456.40,716.64 L457.40,716.79 L458.40,716.94 L459.40,717.08 L460.40,717.22 L461.40,717.36 L462.40,717.50 L463.40,717.63 L464.40,717.75 L465.40,717.88 L466.40,718.00 L467.40,718.11 L468.40,718.22 L469.40,718.33 L470.40,718.43 L471.40,718.52 L472.40,718.61 L473.40,718.70 L474.40,718.78 L475.40,718.85 L476.40,718.92 L477.40,718.99 L478.40,719.04 L479.40,719.09 L480.40,719.14 L481.40,719.17 L482.40,719.20 L483.40,719.23 L484.40,719.24 L485.40,719.25 L486.40,719.25 L487.40,719.24 L488.40,719.22 L489.40,719.19 L490.40,719.15 L491.40,719.11 L492.40,719.05 L493.40,718.99 L494.40,718.91 L495.40,718.82 L496.40,718.72 L497.40,718.61 L498.40,718.48 L499.40,718.34 L500.40,718.19 L501.40,718.03 L502.40,717.85 L503.40,717.65 L504.40,717.44 L505.40,717.22 L506.40,716.98 L507.40,716.72 L508.40,716.44 L509.40,716.14 L510.40,715.82 L511.40,715.49 L512.40,715.13 L513.40,714.75 L514.40,714.34 L515.40,713.91 L516.40,713.46 L517.40,712.98 L518.40,712.47 L519.40,711.93 L520.40,711.36 L521.40,710.76 L522.40,710.13 L523.40,709.46 L524.40,708.75 L525.40,708.01 L526.40,707.22 L527.40,706.39 L528.40,705.52 L529.40,704.59 L530.00,704.01 L530.10,703.91 L530.20,703.81 L530.30,703.71 L530.40,703.61 L530.50,703.51 L530.60,703.41 L530.70,703.31 L530.80,703.21 L530.90,703.11 L531.00,703.00 L531.10,702.90 L531.20,702.79 L531.30,702.69 L531.40,702.58 L531.50,702.48 L531.60,702.37 L531.70,702.26 L531.80,702.15 L531.90,702.04 L532.00,701.94 L532.10,701.83 L532.20,701.71 L532.30,701.60 L532.40,701.49 L532.50,701.38 L532.60,701.27 L532.70,701.15 L532.80,701.04 L532.90,700.92 L533.00,700.81 L533.10,700.69 L533.20,700.57 L533.30,700.46 L533.40,700.34 L533.50,700.22 L533.60,700.10 L533.70,699.98 L533.80,699.86 L533.90,699.74 L534.00,699.62 L534.10,699.49 L534.20,699.37 L534.30,699.24 L534.40,699.12 L534.50,698.99 L534.60,698.87 L534.70,698.74 L534.80,698.61 L534.90,698.48 L535.00,698.35 L535.10,698.22 L535.20,698.09 L535.30,697.96 L535.40,697.83 L535.50,697.70 L535.60,697.56 L535.70,697.43 L535.80,697.29 L535.90,697.16 L536.00,697.02 L536.10,696.88 L536.20,696.74 L536.30,696.60 L536.40,696.46 L536.50,696.32 L536.60,696.18 L536.70,696.04 L536.80,695.89 L536.90,695.75 L537.00,695.60 L537.10,695.46 L537.20,695.31 L537.30,695.16 L537.40,695.01 L537.50,694.86 L537.60,694.71 L537.70,694.56 L537.80,694.41 L537.90,694.25 L538.00,694.10 L538.10,693.94 L538.20,693.79 L538.30,693.63 L538.40,693.47 L538.50,693.31 L538.60,693.15 L538.70,692.99 L538.80,692.83 L538.90,692.67 L539.00,692.50 L539.10,692.34 L539.20,692.17 L539.30,692.01 L539.40,691.84 L539.50,691.67 L539.60,691.50 L539.70,691.33 L539.80,691.16 L539.90,690.98 L540.00,690.81 L540.10,690.64 L540.20,690.46 L540.30,690.28 L540.40,690.10 L540.50,689.92 L540.60,689.74 L540.70,689.56 L540.80,689.38 L540.90,689.20 L541.00,689.01 L541.10,688.83 L541.20,688.64 L541.30,688.45 L541.40,688.26 L541.50,688.07 L541.60,687.88 L541.70,687.68 L541.80,687.49 L541.90,687.30 L542.00,687.10 L542.10,686.90 L542.20,686.70 L542.30,686.50 L542.40,686.30 L542.50,686.10 L542.60,685.89 L542.70,685.69 L542.80,685.48 L542.90,685.27 L543.00,685.06 L543.10,684.85 L543.20,684.64 L543.30,684.43 L543.40,684.21 L543.50,684.00 L543.60,683.78 L543.70,683.56 L543.80,683.34 L543.90,683.12 L544.00,682.89 L544.10,682.67 L544.20,682.44 L544.30,682.22 L544.40,681.99 L544.50,681.76 L544.60,681.52 L544.70,681.29 L544.80,681.06 L544.90,680.82 L545.00,680.58 L545.10,680.34 L545.20,680.10 L545.30,679.86 L545.40,679.61 L545.50,679.36 L545.60,679.12 L545.70,678.87 L545.80,678.62 L545.90,678.36 L546.00,678.11 L546.10,677.85 L546.20,677.59 L546.30,677.33 L546.40,677.07 L546.50,676.81 L546.60,676.54 L546.70,676.27 L546.80,676.00 L546.90,675.73 L547.00,675.46 L547.10,675.18 L547.20,674.90 L547.30,674.62 L547.40,674.34 L547.50,674.06 L547.60,673.77 L547.70,673.49 L547.80,673.20 L547.90,672.90 L548.00,672.61 L548.10,672.31 L548.20,672.01 L548.30,671.71 L548.40,671.41 L548.50,671.10 L548.60,670.80 L548.70,670.49 L548.80,670.17 L548.90,669.86 L549.00,669.54 L549.10,669.22 L549.20,668.90 L549.30,668.57 L549.40,668.24 L549.50,667.91 L549.60,667.58 L549.70,667.24 L549.80,666.90 L549.90,666.56 L550.00,666.21 L550.10,665.87 L550.20,665.51 L550.30,665.16 L550.40,664.80 L550.50,664.44 L550.60,664.08 L550.70,663.71 L550.80,663.34 L550.90,662.97 L551.00,662.59 L551.10,662.21 L551.20,661.83 L551.30,661.44 L551.40,661.05 L551.50,660.65 L551.60,660.25 L551.70,659.85 L551.80,659.44 L551.90,659.03 L552.00,658.62 L552.10,658.20 L552.20,657.78 L552.30,657.35 L552.40,656.92 L552.50,656.48 L552.60,656.04 L552.70,655.59 L552.80,655.14 L552.90,654.68 L553.00,654.22 L553.10,653.75 L553.20,653.28 L553.30,652.80 L553.40,652.32 L553.50,651.83 L553.60,651.33 L553.70,650.83 L553.80,650.32 L553.90,649.81 L554.00,649.29 L554.10,648.76 L554.20,648.22 L554.30,647.68 L554.40,647.13 L554.50,646.57 L554.60,646.01 L554.70,645.43 L554.80,644.85 L554.90,644.26 L555.00,643.66 L555.10,643.05 L555.20,642.44 L555.30,641.81 L555.40,641.18 L555.50,640.54 L555.60,639.88 L555.70,639.22 L555.80,638.55 L555.90,637.87 L556.00,637.18 L556.10,636.48 L556.20,635.77 L556.30,635.05 L556.40,634.31 L556.50,633.57 L556.60,632.81 L556.70,632.04 L556.80,631.26 L556.90,630.47 L557.00,629.67 L557.10,628.85 L557.20,628.02 L557.30,627.17 L557.40,626.31 L557.50,625.43 L557.60,624.54 L557.70,623.62 L557.80,622.69 L557.90,621.74 L558.00,620.77 L558.10,619.78 L558.20,618.75 L558.30,617.71 L558.40,616.62 L558.50,615.50 L558.60,614.33 L558.70,613.09 L558.80,611.74 L558.90,609.89 L559.00,609.90 L640.00,612.60 L775.80,617.20" fill="none" stroke="#8b2917" stroke-width="2.0" stroke-linejoin="round"/>
<path d="M116.40,666.58 L117.40,666.60 L118.40,666.62 L119.40,666.65 L120.40,666.67 L121.40,666.69 L122.40,666.71 L123.40,666.73 L124.40,666.76 L125.40,666.78 L126.40,666.80 L127.40,666.82 L128.40,666.85 L129.40,666.87 L130.40,666.89 L131.40,666.92 L132.40,666.94 L133.40,666.96 L134.40,666.99 L135.40,667.01 L136.40,667.04 L137.40,667.06 L138.40,667.09 L139.40,667.11 L140.40,667.14 L141.40,667.16 L142.40,667.19 L143.40,667.21 L144.40,667.24 L145.40,667.26 L146.40,667.29 L147.40,667.31 L148.40,667.34 L149.40,667.37 L150.40,667.39 L151.40,667.42 L152.40,667.45 L153.40,667.47 L154.40,667.50 L155.40,667.53 L156.40,667.56 L157.40,667.58 L158.40,667.61 L159.40,667.64 L160.40,667.67 L161.40,667.70 L162.40,667.72 L163.40,667.75 L164.40,667.78 L165.40,667.81 L166.40,667.84 L167.40,667.87 L168.40,667.90 L169.40,667.93 L170.40,667.96 L171.40,667.99 L172.40,668.02 L173.40,668.05 L174.40,668.08 L175.40,668.11 L176.40,668.15 L177.40,668.18 L178.40,668.21 L179.40,668.24 L180.40,668.27 L181.40,668.30 L182.40,668.34 L183.40,668.37 L184.40,668.40 L185.40,668.44 L186.40,668.47 L187.40,668.50 L188.40,668.54 L189.40,668.57 L190.40,668.61 L191.40,668.64 L192.40,668.67 L193.40,668.71 L194.40,668.74 L195.40,668.78 L196.40,668.81 L197.40,668.85 L198.40,668.89 L199.40,668.92 L200.40,668.96 L201.40,669.00 L202.40,669.03 L203.40,669.07 L204.40,669.11 L205.40,669.14 L206.40,669.18 L207.40,669.22 L208.40,669.26 L209.40,669.30 L210.40,669.34 L211.40,669.38 L212.40,669.41 L213.40,669.45 L214.40,669.49 L215.40,669.53 L216.40,669.57 L217.40,669.62 L218.40,669.66 L219.40,669.70 L220.40,669.74 L221.40,669.78 L222.40,669.82 L223.40,669.86 L224.40,669.91 L225.40,669.95 L226.40,669.99 L227.40,670.04 L228.40,670.08 L229.40,670.12 L230.40,670.17 L231.40,670.21 L232.40,670.26 L233.40,670.30 L234.40,670.35 L235.40,670.39 L236.40,670.44 L237.40,670.48 L238.40,670.53 L239.40,670.58 L240.40,670.62 L241.40,670.67 L242.40,670.72 L243.40,670.77 L244.40,670.82 L245.40,670.86 L246.40,670.91 L247.40,670.96 L248.40,671.01 L249.40,671.06 L250.40,671.11 L251.40,671.16 L252.40,671.21 L253.40,671.26 L254.40,671.32 L255.40,671.37 L256.40,671.42 L257.40,671.47 L258.40,671.53 L259.40,671.58 L260.40,671.63 L261.40,671.69 L262.40,671.74 L263.40,671.80 L264.40,671.85 L265.40,671.91 L266.40,671.96 L267.40,672.02 L268.40,672.07 L269.40,672.13 L270.40,672.19 L271.40,672.25 L272.40,672.30 L273.40,672.36 L274.40,672.42 L275.40,672.48 L276.40,672.54 L277.40,672.60 L278.40,672.66 L279.40,672.72 L280.40,672.78 L281.40,672.85 L282.40,672.91 L283.40,672.97 L284.40,673.03 L285.40,673.10 L286.40,673.16 L287.40,673.22 L288.40,673.29 L289.40,673.35 L290.40,673.42 L291.40,673.49 L292.40,673.55 L293.40,673.62 L294.40,673.69 L295.40,673.75 L296.40,673.82 L297.40,673.89 L298.40,673.96 L299.40,674.03 L300.40,674.10 L301.40,674.17 L302.40,674.24 L303.40,674.32 L304.40,674.39 L305.40,674.46 L306.40,674.53 L307.40,674.61 L308.40,674.68 L309.40,674.76 L310.40,674.83 L311.40,674.91 L312.40,674.99 L313.40,675.06 L314.40,675.14 L315.40,675.22 L316.40,675.30 L317.40,675.38 L318.40,675.46 L319.40,675.54 L320.40,675.62 L321.40,675.70 L322.40,675.78 L323.40,675.86 L324.40,675.95 L325.40,676.03 L326.40,676.12 L327.40,676.20 L328.40,676.29 L329.40,676.37 L330.40,676.46 L331.40,676.55 L332.40,676.64 L333.40,676.73 L334.40,676.82 L335.40,676.91 L336.40,677.00 L337.40,677.09 L338.40,677.18 L339.40,677.28 L340.40,677.37 L341.40,677.47 L342.40,677.56 L343.40,677.66 L344.40,677.76 L345.40,677.85 L346.40,677.95 L347.40,678.05 L348.40,678.15 L349.40,678.25 L350.40,678.35 L351.40,678.46 L352.40,678.56 L353.40,678.66 L354.40,678.77 L355.40,678.87 L356.40,678.98 L357.40,679.09 L358.40,679.20 L359.40,679.31 L360.40,679.42 L361.40,679.53 L362.40,679.64 L363.40,679.75 L364.40,679.86 L365.40,679.98 L366.40,680.09 L367.40,680.21 L368.40,680.33 L369.40,680.45 L370.40,680.57 L371.40,680.69 L372.40,680.81 L373.40,680.93 L374.40,681.05 L375.40,681.18 L376.40,681.30 L377.40,681.43 L378.40,681.56 L379.40,681.69 L380.40,681.82 L381.40,681.95 L382.40,682.08 L383.40,682.21 L384.40,682.35 L385.40,682.48 L386.40,682.62 L387.40,682.76 L388.40,682.90 L389.40,683.04 L390.40,683.18 L391.40,683.32 L392.40,683.47 L393.40,683.61 L394.40,683.76 L395.40,683.91 L396.40,684.06 L397.40,684.21 L398.40,684.36 L399.40,684.52 L400.40,684.67 L401.40,684.83 L402.40,684.99 L403.40,685.15 L404.40,685.31 L405.40,685.47 L406.40,685.64 L407.40,685.80 L408.40,685.97 L409.40,686.14 L410.40,686.31 L411.40,686.48 L412.40,686.66 L413.40,686.83 L414.40,687.01 L415.40,687.19 L416.40,687.37 L417.40,687.55 L418.40,687.74 L419.40,687.93 L420.40,688.11 L421.40,688.30 L422.40,688.50 L423.40,688.69 L424.40,688.89 L425.40,689.09 L426.40,689.29 L427.40,689.49 L428.40,689.70 L429.40,689.90 L430.40,690.11 L431.40,690.33 L432.40,690.54 L433.40,690.76 L434.40,690.98 L435.40,691.20 L436.40,691.42 L437.40,691.65 L438.40,691.88 L439.40,692.11 L440.40,692.34 L441.40,692.58 L442.40,692.82 L443.40,693.06 L444.40,693.31 L445.40,693.56 L446.40,693.81 L447.40,694.06 L448.40,694.32 L449.40,694.58 L450.40,694.84 L451.40,695.11 L452.40,695.38 L453.40,695.65 L454.40,695.93 L455.40,696.21 L456.40,696.50 L457.40,696.78 L458.40,697.08 L459.40,697.37 L460.40,697.67 L461.40,697.97 L462.40,698.28 L463.40,698.59 L464.40,698.91 L465.40,699.23 L466.40,699.55 L467.40,699.88 L468.40,700.22 L469.40,700.55 L470.40,700.90 L471.40,701.25 L472.40,701.60 L473.40,701.96 L474.40,702.32 L475.40,702.69 L476.40,703.07 L477.40,703.45 L478.40,703.83 L479.40,704.23 L480.40,704.63 L481.40,705.03 L482.40,705.44 L483.40,705.86 L484.40,706.29 L485.40,706.72 L486.40,707.16 L487.40,707.60 L488.40,708.06 L489.40,708.52 L490.40,708.99 L491.40,709.47 L492.40,709.96 L493.40,710.46 L494.40,710.96 L495.40,711.48 L496.40,712.00 L497.40,712.54 L498.40,713.08 L499.40,713.64 L500.40,714.20 L501.40,714.78 L502.40,715.37 L503.40,715.98 L504.40,716.59 L505.40,717.22 L506.40,717.86 L507.40,718.52 L508.40,719.19 L509.40,719.88 L510.40,720.58 L511.40,721.30 L512.40,722.04 L513.40,722.79 L514.40,723.56 L515.40,724.36 L516.40,725.17 L517.40,726.01 L518.40,726.86 L519.40,727.74 L520.00,728.29 L520.20,728.47 L520.40,728.65 L520.60,728.83 L520.80,729.02 L521.00,729.21 L521.20,729.39 L521.40,729.58 L521.60,729.77 L521.80,729.96 L522.00,730.15 L522.20,730.35 L522.40,730.54 L522.60,730.74 L522.80,730.93 L523.00,731.13 L523.20,731.33 L523.40,731.53 L523.60,731.73 L523.80,731.93 L524.00,732.14 L524.20,732.34 L524.40,732.55 L524.60,732.76 L524.80,732.96 L525.00,733.17 L525.20,733.39 L525.40,733.60 L525.60,733.81 L525.80,734.03 L526.00,734.24 L526.20,734.46 L526.40,734.68 L526.60,734.90 L526.80,735.13 L527.00,735.35 L527.20,735.58 L527.40,735.80 L527.60,736.03 L527.80,736.26 L528.00,736.49 L528.20,736.73 L528.40,736.96 L528.60,737.20 L528.80,737.43 L529.00,737.67 L529.20,737.92 L529.40,738.16 L529.60,738.40 L529.80,738.65 L530.00,738.90 L530.20,739.15 L530.40,739.40 L530.60,739.65 L530.80,739.91 L531.00,740.17 L531.20,740.43 L531.40,740.69 L531.60,740.95 L531.80,741.22 L532.00,741.48 L532.20,741.75 L532.40,742.02 L532.60,742.30 L532.80,742.57 L533.00,742.85 L533.20,743.13 L533.40,743.41 L533.60,743.70 L533.80,743.98 L534.00,744.27 L534.20,744.57 L534.40,744.86 L534.60,745.16 L534.80,745.45 L535.00,745.76 L535.20,746.06 L535.40,746.37 L535.60,746.67 L535.80,746.99 L536.00,747.30 L536.20,747.62 L536.40,747.94 L536.60,748.26 L536.80,748.59 L537.00,748.91 L537.20,749.25 L537.40,749.58 L537.60,749.92 L537.80,750.26 L538.00,750.60 L538.20,750.95 L538.40,751.30 L538.60,751.65 L538.80,752.01 L539.00,752.37 L539.20,752.74 L539.40,753.10 L539.60,753.47 L539.80,753.85 L540.00,754.23 L540.20,754.61 L540.40,755.00 L540.60,755.39 L540.80,755.78 L541.00,756.18 L541.20,756.59 L541.40,756.99 L541.60,757.41 L541.80,757.82 L542.00,758.24 L542.20,758.67 L542.40,759.10 L542.60,759.54 L542.80,759.98 L543.00,760.42 L543.20,760.88 L543.40,761.33 L543.60,761.79 L543.80,762.26 L544.00,762.74 L544.20,763.22 L544.40,763.70 L544.60,764.19 L544.60,764.19 L544.86,764.85 L545.07,765.49 L545.27,766.11 L545.45,766.73 L545.62,767.35 L545.78,767.96 L545.94,768.58 L546.08,769.19 L546.23,769.79 L546.37,770.40 L546.50,771.01 L546.63,771.64 L546.76,772.26 L546.87,772.87 L546.98,773.49 L547.08,774.10 L547.18,774.71 L547.28,775.31 L547.38,775.92 L547.47,776.52 L547.56,777.12 L547.66,777.73 L547.75,778.33 L547.84,778.93 L547.93,779.53 L548.02,780.12 L548.11,780.72 L548.21,781.32 L548.30,781.91 L548.40,782.50 L548.50,783.10 L548.60,783.70 L548.70,784.31 L548.80,784.91 L548.90,785.51 L548.99,786.11 L549.09,786.71 L549.19,787.31 L549.29,787.91 L549.39,788.51 L549.48,789.11 L549.58,789.71 L549.68,790.31 L549.78,790.91 L549.88,791.51 L549.98,792.10 L550.07,792.70 L550.17,793.30 L550.27,793.90 L550.37,794.50 L550.47,795.10 L550.57,795.70 L550.68,796.30 L550.78,796.89 L550.88,797.49 L550.98,798.09 L551.09,798.69 L551.19,799.29 L551.30,799.88 L551.40,800.48 L551.51,801.08 L551.62,801.68 L551.73,802.28 L551.83,802.88 L551.94,803.48 L552.05,804.07 L552.16,804.67 L552.27,805.27 L552.38,805.87 L552.49,806.47 L552.60,807.07 L552.72,807.67 L552.83,808.26 L552.94,808.86 L553.06,809.46 L553.17,810.06 L553.29,810.66 L553.40,811.26 L553.52,811.86 L553.63,812.45 L553.75,813.05 L553.87,813.65 L553.99,814.25 L554.11,814.85 L554.23,815.44 L554.35,816.05 L554.47,816.65 L554.59,817.25 L554.71,817.85 L554.83,818.45 L554.95,819.04 L555.07,819.64 L555.19,820.24 L555.32,820.84 L555.44,821.43 L555.56,822.03 L555.69,822.63 L555.82,823.22 L555.95,823.81 L556.09,824.41 L556.23,825.00 L556.37,825.59 L556.52,826.18 L556.67,826.77 L556.83,827.37 L556.98,827.97 L557.14,828.56 L557.30,829.14 L557.48,829.71 L557.67,830.27 L557.89,830.79 L558.19,831.34 L558.49,831.81 L558.79,832.16 L559.00,832.30 L559.30,832.06 L559.60,831.67 L559.90,831.17 L560.20,830.59 L560.47,829.88 L560.66,829.24 L560.84,828.62 L561.00,828.01 L561.16,827.40 L561.32,826.81 L561.48,826.21 L561.64,825.61 L561.79,825.00 L561.95,824.40 L562.10,823.79 L562.25,823.19 L562.40,822.58 L562.54,821.98 L562.68,821.37 L562.82,820.77 L562.96,820.16 L563.10,819.56 L563.23,818.96 L563.36,818.35 L563.50,817.75 L563.63,817.15 L563.75,816.54 L563.88,815.94 L564.01,815.34 L564.13,814.73 L564.26,814.13 L564.38,813.53 L564.50,812.93 L564.62,812.32 L564.74,811.72 L564.86,811.12 L564.97,810.51 L565.09,809.91 L565.20,809.30 L565.31,808.70 L565.42,808.09 L565.52,807.49 L565.63,806.89 L565.74,806.28 L565.84,805.68 L565.94,805.08 L566.04,804.47 L566.14,803.87 L566.24,803.27 L566.34,802.67 L566.44,802.06 L566.54,801.46 L566.64,800.86 L566.73,800.26 L566.83,799.66 L566.92,799.06 L567.02,798.45 L567.11,797.85 L567.21,797.25 L567.30,796.65 L567.40,796.05 L567.49,795.45 L567.58,794.85 L567.68,794.25 L567.77,793.64 L567.86,793.03 L567.95,792.43 L568.04,791.82 L568.12,791.21 L568.20,790.61 L568.28,790.01 L568.36,789.40 L568.44,788.80 L568.52,788.20 L568.60,787.60 L568.68,787.00 L568.76,786.40 L568.84,785.80 L568.92,785.20 L568.99,784.60 L569.07,784.00 L569.15,783.41 L569.23,782.81 L569.32,782.21 L569.40,781.62 L569.48,781.03 L569.57,780.43 L569.66,779.84 L569.75,779.25 L569.85,778.66 L569.94,778.08 L570.05,777.49 L570.16,776.91 L570.27,776.33 L570.40,775.74 L570.52,775.14 L570.65,774.55 L570.78,773.95 L570.91,773.36 L571.04,772.77 L571.18,772.17 L571.32,771.58 L571.47,771.00 L571.62,770.41 L571.78,769.82 L571.95,769.24 L572.13,768.66 L572.32,768.09 L572.53,767.52 L572.70,767.10 L572.90,766.68 L573.10,766.25 L573.30,765.82 L573.50,765.40 L573.70,764.98 L573.90,764.57 L574.10,764.16 L574.30,763.76 L574.50,763.36 L574.70,762.97 L574.90,762.58 L575.10,762.19 L575.30,761.81 L575.50,761.43 L575.70,761.05 L575.90,760.68 L576.10,760.31 L576.30,759.95 L576.50,759.59 L576.70,759.23 L576.90,758.87 L577.10,758.52 L577.30,758.18 L577.50,757.83 L577.70,757.49 L577.90,757.15 L578.10,756.82 L578.30,756.49 L578.50,756.16 L578.70,755.84 L578.90,755.51 L579.10,755.19 L579.30,754.88 L579.50,754.56 L579.70,754.25 L579.90,753.94 L580.10,753.64 L580.30,753.34 L580.50,753.04 L580.70,752.74 L580.90,752.44 L581.10,752.15 L581.30,751.86 L581.50,751.57 L581.70,751.29 L581.90,751.00 L582.10,750.72 L582.30,750.44 L582.50,750.17 L582.70,749.89 L582.90,749.62 L583.10,749.35 L583.30,749.09 L583.50,748.82 L583.70,748.56 L583.90,748.30 L584.10,748.04 L584.30,747.78 L584.50,747.53 L584.70,747.27 L584.90,747.02 L585.10,746.77 L585.30,746.53 L585.50,746.28 L585.70,746.04 L585.90,745.80 L586.10,745.56 L586.30,745.32 L586.50,745.08 L586.70,744.85 L586.90,744.62 L587.10,744.38 L587.30,744.16 L587.50,743.93 L587.70,743.70 L587.90,743.48 L588.10,743.25 L588.30,743.03 L588.50,742.81 L588.70,742.59 L588.90,742.38 L589.10,742.16 L589.30,741.95 L589.50,741.74 L589.70,741.53 L589.90,741.32 L590.10,741.11 L590.30,740.90 L590.50,740.70 L590.70,740.49 L590.90,740.29 L591.10,740.09 L591.30,739.89 L591.50,739.69 L591.70,739.50 L591.90,739.30 L592.10,739.11 L592.30,738.91 L592.50,738.72 L592.70,738.53 L592.90,738.34 L593.10,738.15 L593.30,737.97 L593.50,737.78 L593.70,737.60 L593.90,737.41 L594.10,737.23 L594.30,737.05 L594.50,736.87 L594.70,736.69 L594.90,736.51 L595.10,736.34 L595.30,736.16 L595.50,735.99 L595.70,735.81 L595.90,735.64 L596.10,735.47 L596.30,735.30 L596.50,735.13 L596.70,734.96 L596.90,734.79 L597.10,734.63 L597.30,734.46 L597.50,734.30 L597.70,734.13 L597.90,733.97 L598.10,733.81 L598.30,733.65 L598.50,733.49 L598.70,733.33 L598.90,733.18 L599.10,733.02 L599.30,732.86 L599.50,732.71 L599.70,732.55 L599.90,732.40 L600.70,731.80 L601.70,731.06 L602.70,730.34 L603.70,729.65 L604.70,728.97 L605.70,728.31 L606.70,727.67 L607.70,727.04 L608.70,726.43 L609.70,725.83 L610.70,725.25 L611.70,724.68 L612.70,724.13 L613.70,723.59 L614.70,723.06 L615.70,722.54 L616.70,722.04 L617.70,721.55 L618.70,721.07 L619.70,720.59 L620.70,720.13 L621.70,719.68 L622.70,719.24 L623.70,718.81 L624.70,718.39 L625.70,717.98 L626.70,717.57 L627.70,717.17 L628.70,716.79 L629.70,716.41 L630.70,716.03 L631.70,715.67 L632.70,715.31 L633.70,714.96 L634.70,714.61 L635.70,714.28 L636.70,713.95 L637.70,713.62 L638.70,713.30 L639.70,712.99 L640.70,712.68 L641.70,712.38 L642.70,712.09 L643.70,711.80 L644.70,711.51 L645.70,711.23 L646.70,710.96 L647.70,710.69 L648.70,710.42 L649.70,710.16 L650.70,709.91 L651.70,709.66 L652.70,709.41 L653.70,709.17 L654.70,708.93 L655.70,708.70 L656.70,708.47 L657.70,708.24 L658.70,708.02 L659.70,707.80 L660.70,707.59 L661.70,707.38 L662.70,707.17 L663.70,706.97 L664.70,706.77 L665.70,706.57 L666.70,706.38 L667.70,706.19 L668.70,706.00 L669.70,705.81 L670.70,705.63 L671.70,705.45 L672.70,705.28 L673.70,705.11 L674.70,704.94 L675.70,704.77 L676.70,704.61 L677.70,704.44 L678.70,704.29 L679.70,704.13 L680.70,703.98 L681.70,703.82 L682.70,703.68 L683.70,703.53 L684.70,703.38 L685.70,703.24 L686.70,703.10 L687.70,702.97 L688.70,702.83 L689.70,702.70 L690.70,702.57 L691.70,702.44 L692.70,702.31 L693.70,702.19 L694.70,702.06 L695.70,701.94 L696.70,701.82 L697.70,701.71 L698.70,701.59 L699.70,701.48 L700.70,701.37 L701.70,701.26 L702.70,701.15 L703.70,701.04 L704.70,700.94 L705.70,700.84 L706.70,700.73 L707.70,700.63 L708.70,700.54 L709.70,700.44 L710.70,700.34 L711.70,700.25 L712.70,700.16 L713.70,700.07 L714.70,699.98 L715.70,699.89 L716.70,699.81 L717.70,699.72 L718.70,699.64 L719.70,699.55 L720.70,699.47 L721.70,699.39 L722.70,699.32 L723.70,699.24 L724.70,699.16 L725.70,699.09 L726.70,699.02 L727.70,698.94 L728.70,698.87 L729.70,698.80 L730.70,698.74 L731.70,698.67 L732.70,698.60 L733.70,698.54 L734.70,698.47 L735.70,698.41 L736.70,698.35 L737.70,698.29 L738.70,698.23 L739.70,698.17 L740.70,698.11 L741.70,698.05 L742.70,698.00 L743.70,697.94 L744.70,697.89 L745.70,697.84 L746.70,697.79 L747.70,697.74 L748.70,697.69 L749.70,697.64 L750.70,697.59 L751.70,697.54 L752.70,697.49 L753.70,697.45 L754.70,697.40 L755.70,697.36 L756.70,697.32 L757.70,697.28 L758.70,697.23 L759.70,697.19 L760.70,697.15 L761.70,697.11 L762.70,697.08 L763.70,697.04 L764.70,697.00 L765.70,696.97 L766.70,696.93 L767.70,696.90 L768.70,696.86 L769.70,696.83 L770.70,696.80 L771.70,696.77 L772.70,696.73 L773.70,696.70 L774.70,696.68 L775.70,696.65 L776.70,696.62 L777.70,696.59 L778.70,696.56 L779.70,696.54 L780.70,696.51 L781.70,696.49 L782.70,696.46 L783.70,696.44 L784.70,696.42 L785.70,696.39 L786.70,696.37 L787.70,696.35 L788.70,696.33 L789.70,696.31 L789.80,696.31" fill="none" stroke="#72cff5" stroke-width="2.0" stroke-linejoin="round"/>
<path d="M116.40,702.20 L117.40,702.21 L118.40,702.22 L119.40,702.24 L120.40,702.25 L121.40,702.26 L122.40,702.28 L123.40,702.29 L124.40,702.31 L125.40,702.32 L126.40,702.33 L127.40,702.35 L128.40,702.37 L129.40,702.38 L130.40,702.40 L131.40,702.41 L132.40,702.43 L133.40,702.45 L134.40,702.46 L135.40,702.48 L136.40,702.50 L137.40,702.52 L138.40,702.54 L139.40,702.56 L140.40,702.58 L141.40,702.60 L142.40,702.62 L143.40,702.64 L144.40,702.66 L144.77,702.67" fill="none" stroke="#78c236" stroke-width="2.0" stroke-linejoin="round" stroke-dasharray="7.6 2.3 1.4 1.9"/>
<path d="M144.77,702.67 L145.40,702.68 L146.40,702.70 L147.40,702.72 L148.40,702.75 L149.40,702.77 L150.40,702.79 L151.40,702.82 L152.40,702.84 L153.40,702.86 L154.40,702.89 L155.40,702.91 L156.40,702.94 L157.40,702.97 L158.40,702.99 L159.40,703.02 L160.40,703.05 L161.40,703.07 L162.40,703.10 L163.40,703.13 L164.40,703.16 L165.40,703.19 L166.40,703.22 L167.40,703.25 L168.40,703.28 L169.40,703.31 L170.40,703.34 L171.40,703.38 L172.40,703.41 L173.14,703.43" fill="none" stroke="#78c236" stroke-width="2.0" stroke-linejoin="round" stroke-dasharray="7.6 2.3 1.4 1.9"/>
<path d="M173.14,703.43 L173.40,703.44 L174.40,703.48 L175.40,703.51 L176.40,703.55 L177.40,703.58 L178.40,703.62 L179.40,703.65 L180.40,703.69 L181.40,703.73 L182.40,703.77 L183.40,703.80 L184.40,703.84 L185.40,703.88 L186.40,703.92 L187.40,703.96 L188.40,704.00 L189.40,704.04 L190.40,704.09 L191.40,704.13 L192.40,704.17 L193.40,704.22 L194.40,704.26 L195.40,704.31 L196.40,704.35 L197.40,704.40 L198.40,704.44 L199.40,704.49 L200.40,704.54 L201.40,704.59 L201.51,704.59" fill="none" stroke="#78c236" stroke-width="2.0" stroke-linejoin="round" stroke-dasharray="7.6 2.3 1.4 1.9"/>
<path d="M201.51,704.59 L202.40,704.64 L203.40,704.68 L204.40,704.73 L205.40,704.79 L206.40,704.84 L207.40,704.89 L208.40,704.94 L209.40,704.99 L210.40,705.05 L211.40,705.10 L212.40,705.16 L213.40,705.21 L214.40,705.27 L215.40,705.33 L216.40,705.38 L217.40,705.44 L218.40,705.50 L219.40,705.56 L220.40,705.62 L221.40,705.68 L222.40,705.74 L223.40,705.81 L224.40,705.87 L225.40,705.93 L226.40,706.00 L227.40,706.06 L228.40,706.13 L229.40,706.19 L229.88,706.23" fill="none" stroke="#78c236" stroke-width="2.0" stroke-linejoin="round" stroke-dasharray="7.6 2.3 1.4 1.9"/>
<path d="M229.88,706.23 L230.40,706.26 L231.40,706.33 L232.40,706.40 L233.40,706.47 L234.40,706.54 L235.40,706.61 L236.40,706.68 L237.40,706.75 L238.40,706.82 L239.40,706.90 L240.40,706.97 L241.40,707.05 L242.40,707.12 L243.40,707.20 L244.40,707.28 L245.40,707.35 L246.40,707.43 L247.40,707.51 L248.40,707.59 L249.40,707.67 L250.40,707.76 L251.40,707.84 L252.40,707.92 L253.40,708.01 L254.40,708.09 L255.40,708.18 L256.40,708.26 L257.40,708.35 L258.25,708.43" fill="none" stroke="#78c236" stroke-width="2.0" stroke-linejoin="round" stroke-dasharray="7.6 2.3 1.4 1.9"/>
<path d="M258.25,708.43 L258.40,708.44 L259.40,708.53 L260.40,708.62 L261.40,708.71 L262.40,708.80 L263.40,708.89 L264.40,708.99 L265.40,709.08 L266.40,709.17 L267.40,709.27 L268.40,709.37 L269.40,709.46 L270.40,709.56 L271.40,709.66 L272.40,709.76 L273.40,709.86 L274.40,709.96 L275.40,710.07 L276.40,710.17 L277.40,710.27 L278.40,710.38 L279.40,710.49 L280.40,710.59 L281.40,710.70 L282.40,710.81 L283.40,710.92 L284.40,711.03 L285.40,711.14 L286.40,711.25 L286.62,711.28" fill="none" stroke="#78c236" stroke-width="2.0" stroke-linejoin="round" stroke-dasharray="7.6 2.3 1.4 1.9"/>
<path d="M286.62,711.28 L287.40,711.37 L288.40,711.48 L289.40,711.60 L290.40,711.71 L291.40,711.83 L292.40,711.95 L293.40,712.07 L294.40,712.19 L295.40,712.31 L296.40,712.43 L297.40,712.55 L298.40,712.68 L299.40,712.80 L300.40,712.93 L301.40,713.05 L302.40,713.18 L303.40,713.31 L304.40,713.44 L305.40,713.57 L306.40,713.70 L307.40,713.83 L308.40,713.97 L309.40,714.10 L310.40,714.24 L311.40,714.37 L312.40,714.51 L313.40,714.65 L314.40,714.79 L315.00,714.87" fill="none" stroke="#78c236" stroke-width="2.0" stroke-linejoin="round" stroke-dasharray="7.6 2.3 1.4 1.9"/>
<path d="M315.00,714.87 L315.40,714.93 L316.40,715.07 L317.40,715.22 L318.40,715.36 L319.40,715.50 L320.40,715.65 L321.40,715.80 L322.40,715.94 L323.40,716.09 L324.40,716.24 L325.40,716.40 L326.40,716.55 L327.40,716.70 L328.40,716.86 L329.40,717.01 L330.40,717.17 L331.40,717.33 L332.40,717.48 L333.40,717.64 L334.40,717.80 L335.40,717.97 L336.40,718.13 L337.40,718.29 L338.40,718.46 L339.40,718.63 L340.40,718.79 L341.40,718.96 L342.40,719.13 L343.37,719.30" fill="none" stroke="#78c236" stroke-width="2.0" stroke-linejoin="round" stroke-dasharray="7.6 2.3 1.4 1.9"/>
<path d="M343.37,719.30 L343.40,719.30 L344.40,719.48 L345.40,719.65 L346.40,719.82 L347.40,720.00 L348.40,720.18 L349.40,720.35 L350.40,720.53 L351.40,720.71 L352.40,720.89 L353.40,721.08 L354.40,721.26 L355.40,721.45 L356.40,721.63 L357.40,721.82 L358.40,722.01 L359.40,722.20 L360.40,722.39 L361.40,722.58 L362.40,722.77 L363.40,722.97 L364.40,723.16 L365.40,723.36 L366.40,723.56 L367.40,723.76 L368.40,723.96 L369.40,724.16 L370.40,724.36 L371.40,724.56 L371.74,724.63" fill="none" stroke="#78c236" stroke-width="2.0" stroke-linejoin="round" stroke-dasharray="7.6 2.3 1.4 1.9"/>
<path d="M371.74,724.63 L372.40,724.77 L373.40,724.97 L374.40,725.18 L375.40,725.39 L376.40,725.59 L377.40,725.80 L378.40,726.01 L379.40,726.22 L380.40,726.43 L381.40,726.65 L382.40,726.86 L383.40,727.07 L384.40,727.29 L385.40,727.50 L386.40,727.72 L387.40,727.93 L388.40,728.15 L389.40,728.37 L390.40,728.59 L391.40,728.81 L392.40,729.03 L393.40,729.25 L394.40,729.47 L395.40,729.69 L396.40,729.91 L397.40,730.14 L398.40,730.36 L399.40,730.58 L400.11,730.74" fill="none" stroke="#78c236" stroke-width="2.0" stroke-linejoin="round" stroke-dasharray="7.6 2.3 1.4 1.9"/>
<path d="M400.11,730.74 L400.40,730.81 L401.40,731.03 L402.40,731.26 L403.40,731.49 L404.40,731.71 L405.40,731.94 L406.40,732.17 L407.40,732.39 L408.40,732.62 L409.40,732.85 L410.40,733.08 L411.40,733.31 L412.40,733.54 L413.40,733.76 L414.40,733.99 L415.40,734.22 L416.40,734.45 L417.40,734.68 L418.40,734.92 L419.40,735.15 L420.40,735.38 L421.40,735.61 L422.40,735.84 L423.40,736.07 L424.40,736.30 L425.40,736.53 L426.40,736.76 L427.40,736.99 L428.40,737.23 L428.48,737.24" fill="none" stroke="#78c236" stroke-width="2.0" stroke-linejoin="round" stroke-dasharray="7.6 2.3 1.4 1.9"/>
<path d="M428.48,737.24 L429.40,737.46 L430.40,737.69 L431.40,737.92 L432.40,738.15 L433.40,738.38 L434.40,738.61 L435.40,738.84 L436.40,739.07 L437.40,739.30 L438.40,739.53 L439.40,739.76 L440.40,739.99 L441.40,740.22 L442.40,740.45 L443.40,740.68 L444.40,740.91 L445.40,741.13 L446.40,741.36 L447.40,741.59 L448.40,741.81 L449.40,742.03 L450.40,742.26 L451.40,742.48 L452.40,742.70 L453.40,742.92 L454.40,743.14 L455.40,743.35 L456.40,743.57 L456.85,743.66" fill="none" stroke="#78c236" stroke-width="2.0" stroke-linejoin="round" stroke-dasharray="7.6 2.3 1.4 1.9"/>
<path d="M456.85,743.66 L457.40,743.78 L458.40,743.99 L459.40,744.20 L460.40,744.41 L461.40,744.62 L462.40,744.83 L463.40,745.03 L464.40,745.23 L465.40,745.43 L466.40,745.63 L467.40,745.82 L468.40,746.02 L469.40,746.21 L470.40,746.40 L471.40,746.58 L472.40,746.77 L473.40,746.95 L474.40,747.13 L475.40,747.31 L476.40,747.48 L477.40,747.65 L478.40,747.82 L479.40,747.98 L480.40,748.15 L481.40,748.31 L482.40,748.46 L483.40,748.62 L484.40,748.77 L485.22,748.89" fill="none" stroke="#78c236" stroke-width="2.0" stroke-linejoin="round" stroke-dasharray="7.6 2.3 1.4 1.9"/>
<path d="M485.22,748.89 L485.40,748.91 L486.40,749.06 L487.40,749.20 L488.40,749.33 L489.40,749.46 L490.40,749.59 L491.40,749.72 L492.40,749.84 L493.40,749.96 L494.40,750.07 L495.40,750.18 L496.40,750.29 L497.40,750.39 L498.40,750.49 L499.40,750.59 L500.40,750.68 L501.40,750.76 L502.40,750.84 L503.40,750.92 L504.40,750.99 L505.40,751.06 L506.40,751.12 L507.40,751.18 L508.40,751.23 L509.40,751.28 L510.40,751.33 L511.40,751.37 L512.40,751.40 L513.40,751.42 L513.59,751.43" fill="none" stroke="#78c236" stroke-width="2.0" stroke-linejoin="round" stroke-dasharray="7.6 2.3 1.4 1.9"/>
<path d="M513.59,751.43 L514.40,751.44 L515.40,751.45 L516.40,751.45 L517.40,751.44 L518.40,751.43 L519.40,751.40 L520.40,751.36 L521.40,751.31 L522.40,751.25 L523.40,751.18 L524.40,751.10 L525.40,751.00 L526.40,750.89 L527.40,750.76 L528.40,750.62 L529.40,750.46 L530.40,750.29 L531.40,750.10 L532.40,749.90 L533.40,749.67 L534.40,749.43 L535.40,749.17 L536.40,748.89 L537.40,748.59 L538.40,748.28 L539.40,747.94 L540.40,747.57 L541.40,747.19 L541.96,746.96" fill="none" stroke="#78c236" stroke-width="2.0" stroke-linejoin="round" stroke-dasharray="7.6 2.3 1.4 1.9"/>
<path d="M541.96,746.96 L542.40,746.79 L543.40,746.36 L543.50,746.31 L543.80,746.08 L544.10,745.91 L544.40,745.77 L544.70,745.67 L545.00,745.60 L545.30,745.55 L545.60,745.52 L545.90,745.51 L546.20,745.50 L546.50,745.50 L546.80,745.55 L547.10,745.69 L547.40,745.90 L547.70,746.17 L548.00,746.47 L548.30,746.78 L548.60,747.10 L548.90,747.40 L549.20,747.66 L549.50,747.87 L549.80,748.08 L550.10,748.30 L550.40,748.52 L550.70,748.73 L551.00,748.93 L551.30,749.11 L551.60,749.25 L551.90,749.35 L552.20,749.40 L552.50,749.38 L552.80,749.31 L553.10,749.18 L553.40,749.01 L553.70,748.81 L554.00,748.60 L554.30,748.32 L554.60,747.92 L554.90,747.44 L555.20,746.90 L555.50,746.28 L555.76,745.63 L555.99,745.00 L556.20,744.37 L556.39,743.75 L556.57,743.13 L556.74,742.52 L556.90,741.91 L557.05,741.29 L557.20,740.64 L557.32,739.99 L557.43,739.36 L557.52,738.74 L557.61,738.12 L557.69,737.51 L557.77,736.91 L557.85,736.31 L557.93,735.71 L558.01,735.11 L558.09,734.51 L558.18,733.92 L558.26,733.34 L558.35,732.75 L558.44,732.18 L558.55,731.61 L558.67,731.07 L558.81,730.57 L559.02,730.00 L559.26,729.43 L559.52,728.86 L559.81,728.30 L560.11,727.80 L560.41,727.34 L560.71,726.93 L561.01,726.54 L561.31,726.15 L561.61,725.76 L561.91,725.34 L562.21,724.88 L562.51,724.36 L562.81,723.79 L563.11,723.21 L563.41,722.61 L563.71,722.00 L564.00,721.40 L564.29,720.79 L564.57,720.19 L564.84,719.58 L565.12,718.98 L565.38,718.37 L565.65,717.77 L565.91,717.17 L566.17,716.56 L566.42,715.96 L566.67,715.36 L566.92,714.75 L567.16,714.14 L567.40,713.52 L567.62,712.91 L567.83,712.31 L568.05,711.70 L568.25,711.10 L568.46,710.50 L568.67,709.90 L568.87,709.30 L569.08,708.71 L569.29,708.11 L569.51,707.52 L569.74,706.93 L569.97,706.35 L570.21,705.77 L570.33,705.50" fill="none" stroke="#78c236" stroke-width="2.0" stroke-linejoin="round" stroke-dasharray="7.6 2.3 1.4 1.9"/>
<path d="M570.33,705.50 L570.48,705.17 L570.74,704.57 L571.01,703.98 L571.28,703.39 L571.57,702.81 L571.87,702.25 L572.17,701.74 L572.47,701.31 L572.77,700.91 L573.07,700.51 L573.37,700.12 L573.67,699.74 L573.97,699.38 L574.27,699.04 L574.57,698.71 L574.87,698.41 L575.17,698.13 L575.47,697.88 L575.77,697.66 L576.07,697.48 L576.37,697.32 L576.67,697.21 L576.70,697.20 L577.70,696.43 L578.70,695.70 L579.70,695.00 L580.70,694.34 L581.70,693.71 L582.70,693.10 L583.70,692.53 L584.70,691.97 L585.70,691.44 L586.70,690.94 L587.70,690.45 L588.70,689.98 L589.70,689.53 L590.70,689.10 L591.70,688.68 L592.70,688.27 L593.70,687.88 L594.70,687.51 L595.70,687.15 L596.70,686.79 L597.70,686.45 L598.70,686.13 L598.70,686.12" fill="none" stroke="#78c236" stroke-width="2.0" stroke-linejoin="round" stroke-dasharray="7.6 2.3 1.4 1.9"/>
<path d="M598.70,686.12 L599.70,685.81 L600.70,685.50 L601.70,685.20 L602.70,684.91 L603.70,684.63 L604.70,684.35 L605.70,684.09 L606.70,683.83 L607.70,683.58 L608.70,683.34 L609.70,683.10 L610.70,682.87 L611.70,682.64 L612.70,682.43 L613.70,682.21 L614.70,682.01 L615.70,681.80 L616.70,681.61 L617.70,681.42 L618.70,681.23 L619.70,681.05 L620.70,680.87 L621.70,680.69 L622.70,680.53 L623.70,680.36 L624.70,680.20 L625.70,680.04 L626.70,679.89 L627.08,679.83" fill="none" stroke="#78c236" stroke-width="2.0" stroke-linejoin="round" stroke-dasharray="7.6 2.3 1.4 1.9"/>
<path d="M627.08,679.83 L627.70,679.74 L628.70,679.59 L629.70,679.45 L630.70,679.31 L631.70,679.17 L632.70,679.04 L633.70,678.91 L634.70,678.78 L635.70,678.65 L636.70,678.53 L637.70,678.41 L638.70,678.30 L639.70,678.18 L640.70,678.07 L641.70,677.96 L642.70,677.85 L643.70,677.75 L644.70,677.65 L645.70,677.54 L646.70,677.45 L647.70,677.35 L648.70,677.26 L649.70,677.16 L650.70,677.07 L651.70,676.99 L652.70,676.90 L653.70,676.81 L654.70,676.73 L655.45,676.67" fill="none" stroke="#78c236" stroke-width="2.0" stroke-linejoin="round" stroke-dasharray="7.6 2.3 1.4 1.9"/>
<path d="M655.45,676.67 L655.70,676.65 L656.70,676.57 L657.70,676.49 L658.70,676.42 L659.70,676.34 L660.70,676.27 L661.70,676.20 L662.70,676.13 L663.70,676.06 L664.70,675.99 L665.70,675.92 L666.70,675.86 L667.70,675.80 L668.70,675.73 L669.70,675.67 L670.70,675.61 L671.70,675.55 L672.70,675.50 L673.70,675.44 L674.70,675.39 L675.70,675.33 L676.70,675.28 L677.70,675.23 L678.70,675.18 L679.70,675.13 L680.70,675.08 L681.70,675.03 L682.70,674.99 L683.70,674.94 L683.82,674.94" fill="none" stroke="#78c236" stroke-width="2.0" stroke-linejoin="round" stroke-dasharray="7.6 2.3 1.4 1.9"/>
<path d="M683.82,674.94 L684.70,674.90 L685.70,674.85 L686.70,674.81 L687.70,674.77 L688.70,674.73 L689.70,674.69 L690.70,674.65 L691.70,674.61 L692.70,674.57 L693.70,674.54 L694.70,674.50 L695.70,674.47 L696.70,674.43 L697.70,674.40 L698.70,674.37 L699.70,674.33 L700.70,674.30 L701.70,674.27 L702.70,674.24 L703.70,674.21 L704.70,674.19 L705.70,674.16 L706.70,674.13 L707.70,674.10 L708.70,674.08 L709.70,674.05 L710.70,674.03 L711.70,674.00 L712.19,673.99" fill="none" stroke="#78c236" stroke-width="2.0" stroke-linejoin="round" stroke-dasharray="7.6 2.3 1.4 1.9"/>
<path d="M712.19,673.99 L712.70,673.98 L713.70,673.96 L714.70,673.93 L715.70,673.91 L716.70,673.89 L717.70,673.87 L718.70,673.85 L719.70,673.83 L720.70,673.81 L721.70,673.79 L722.70,673.78 L723.70,673.76 L724.70,673.74 L725.70,673.72 L726.70,673.71 L727.70,673.69 L728.70,673.68 L729.70,673.66 L730.70,673.65 L731.70,673.63 L732.70,673.62 L733.70,673.61 L734.70,673.60 L735.70,673.58 L736.70,673.57 L737.70,673.56 L738.70,673.55 L739.70,673.54 L740.56,673.53" fill="none" stroke="#78c236" stroke-width="2.0" stroke-linejoin="round" stroke-dasharray="7.6 2.3 1.4 1.9"/>
<path d="M740.56,673.53 L740.70,673.53 L741.70,673.52 L742.70,673.51 L743.70,673.50 L744.70,673.49 L745.70,673.48 L746.70,673.48 L747.70,673.47 L748.70,673.46 L749.70,673.46 L750.70,673.45 L751.70,673.44 L752.70,673.44 L753.70,673.43 L754.70,673.43 L755.70,673.42 L756.70,673.42 L757.70,673.41 L758.70,673.41 L759.70,673.41 L760.70,673.40 L761.70,673.40 L762.70,673.40 L763.70,673.40 L764.70,673.39 L765.70,673.39 L766.70,673.39 L767.70,673.39 L768.70,673.39 L768.93,673.39" fill="none" stroke="#78c236" stroke-width="2.0" stroke-linejoin="round" stroke-dasharray="7.6 2.3 1.4 1.9"/>
<path d="M768.93,673.39 L769.70,673.39 L770.70,673.39 L771.70,673.39 L772.70,673.39 L773.70,673.39 L774.70,673.39 L775.70,673.39 L776.70,673.39 L777.70,673.39 L778.70,673.39 L779.60,673.40" fill="none" stroke="#78c236" stroke-width="2.0" stroke-linejoin="round" stroke-dasharray="7.6 2.3 1.4 1.9"/>
</g>
<line x1="229.88" y1="578.40" x2="229.88" y2="585.90" stroke="#000" stroke-width="1.4"/>
<line x1="229.88" y1="853.70" x2="229.88" y2="846.20" stroke="#000" stroke-width="1.4"/>
<line x1="343.37" y1="578.40" x2="343.37" y2="585.90" stroke="#000" stroke-width="1.4"/>
<line x1="343.37" y1="853.70" x2="343.37" y2="846.20" stroke="#000" stroke-width="1.4"/>
<line x1="456.85" y1="578.40" x2="456.85" y2="585.90" stroke="#000" stroke-width="1.4"/>
<line x1="456.85" y1="853.70" x2="456.85" y2="846.20" stroke="#000" stroke-width="1.4"/>
<line x1="570.33" y1="578.40" x2="570.33" y2="585.90" stroke="#000" stroke-width="1.4"/>
<line x1="570.33" y1="853.70" x2="570.33" y2="846.20" stroke="#000" stroke-width="1.4"/>
<line x1="683.82" y1="578.40" x2="683.82" y2="585.90" stroke="#000" stroke-width="1.4"/>
<line x1="683.82" y1="853.70" x2="683.82" y2="846.20" stroke="#000" stroke-width="1.4"/>
<line x1="116.40" y1="614.00" x2="123.90" y2="614.00" stroke="#000" stroke-width="1.4"/>
<line x1="797.30" y1="614.00" x2="789.80" y2="614.00" stroke="#000" stroke-width="1.4"/>
<text x="101.8" y="622.50" text-anchor="end" font-family="Liberation Sans, sans-serif" font-size="24" fill="#000">-0.8</text>
<line x1="116.40" y1="685.20" x2="123.90" y2="685.20" stroke="#000" stroke-width="1.4"/>
<line x1="797.30" y1="685.20" x2="789.80" y2="685.20" stroke="#000" stroke-width="1.4"/>
<text x="101.8" y="693.70" text-anchor="end" font-family="Liberation Sans, sans-serif" font-size="24" fill="#000">-1.2</text>
<line x1="116.40" y1="756.40" x2="123.90" y2="756.40" stroke="#000" stroke-width="1.4"/>
<line x1="797.30" y1="756.40" x2="789.80" y2="756.40" stroke="#000" stroke-width="1.4"/>
<text x="101.8" y="764.90" text-anchor="end" font-family="Liberation Sans, sans-serif" font-size="24" fill="#000">-1.6</text>
<line x1="116.40" y1="827.60" x2="123.90" y2="827.60" stroke="#000" stroke-width="1.4"/>
<line x1="797.30" y1="827.60" x2="789.80" y2="827.60" stroke="#000" stroke-width="1.4"/>
<text x="101.8" y="836.10" text-anchor="end" font-family="Liberation Sans, sans-serif" font-size="24" fill="#000">-2</text>
<rect x="116.40" y="578.40" width="680.90" height="275.30" fill="none" stroke="#000" stroke-width="1.4"/>
<text x="116.40" y="886.2" text-anchor="middle" font-family="Liberation Sans, sans-serif" font-size="24" fill="#000">0</text>
<text x="229.88" y="886.2" text-anchor="middle" font-family="Liberation Sans, sans-serif" font-size="24" fill="#000">2</text>
<text x="343.37" y="886.2" text-anchor="middle" font-family="Liberation Sans, sans-serif" font-size="24" fill="#000">4</text>
<text x="456.85" y="886.2" text-anchor="middle" font-family="Liberation Sans, sans-serif" font-size="24" fill="#000">6</text>
<text x="570.33" y="886.2" text-anchor="middle" font-family="Liberation Sans, sans-serif" font-size="24" fill="#000">8</text>
<text x="683.82" y="886.2" text-anchor="middle" font-family="Liberation Sans, sans-serif" font-size="24" fill="#000">10</text>
<text x="797.30" y="886.2" text-anchor="middle" font-family="Liberation Sans, sans-serif" font-size="24" fill="#000">12</text>
<text x="456.4" y="921.1" text-anchor="middle" font-family="Liberation Sans, sans-serif" font-size="24" fill="#000">Magnetic Field (T)</text>
<text transform="translate(27.9,165.7) rotate(-90)" text-anchor="middle" font-family="Liberation Sans, sans-serif" font-size="24" fill="#000">Spec. Heat C/T (J/K<tspan font-size="19.2" dy="-11.3">2</tspan><tspan dy="11.3">mol)</tspan></text>
<text transform="translate(25.9,440.7) rotate(-90)" text-anchor="middle" font-family="Liberation Sans, sans-serif" font-size="24" fill="#000">Resistivity ρ (<tspan font-family="Liberation Serif, serif" font-size="26.4">μ</tspan><tspan font-family="Liberation Serif, serif" font-size="26.4" dx="-0.5">Ω</tspan><tspan dx="-1.2">cm)</tspan></text>
<text transform="translate(27.9,716.6) rotate(-90)" text-anchor="middle" font-family="Liberation Sans, sans-serif" font-size="24" fill="#000">Thermopower S/T (<tspan font-family="Liberation Serif, serif" font-size="26.4">μ</tspan><tspan dx="0.4">V/K</tspan><tspan font-size="19.2" dy="-11.3">2</tspan><tspan dy="11.3">)</tspan></text>
<text x="136.0" y="77.2" font-family="Liberation Sans, sans-serif" font-size="24" fill="#000">a)</text>
<text x="135.6" y="352.1" font-family="Liberation Sans, sans-serif" font-size="24" fill="#000">b)</text>
<text x="136.4" y="628.0" font-family="Liberation Sans, sans-serif" font-size="24" fill="#000">c)</text>
<text x="572.3" y="74.1" font-family="Liberation Sans, sans-serif" font-size="24" fill="#000">B<tspan font-size="19.2" dy="7.1">MMT</tspan></text>
<text x="152.0" y="411.0" font-family="Liberation Sans, sans-serif" font-size="24" fill="#000">ρ<tspan font-size="19.2" dy="6.8" dx="-0.6">xx</tspan></text>
<text x="697.0" y="446.1" font-family="Liberation Sans, sans-serif" font-size="24" fill="#000">ρ<tspan font-size="19.2" dy="7.1" dx="-0.6">xy</tspan></text>
<text x="294.8" y="204.50" text-anchor="end" font-family="Liberation Sans, sans-serif" font-size="24" fill="#000">Lifshitz model</text>
<text x="294.8" y="228.40" text-anchor="end" font-family="Liberation Sans, sans-serif" font-size="24" fill="#000">Peak model</text>
<text x="294.8" y="252.20" text-anchor="end" font-family="Liberation Sans, sans-serif" font-size="24" fill="#000">weighted sum</text>
</svg>
</body></html>
